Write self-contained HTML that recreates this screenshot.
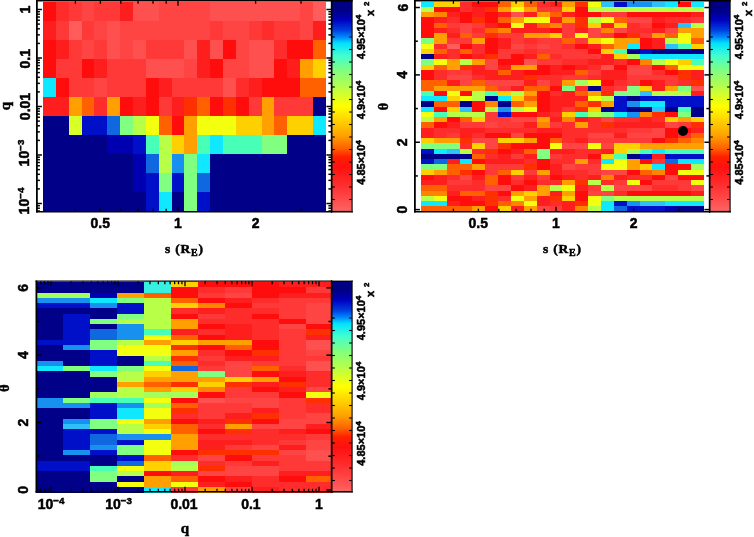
<!DOCTYPE html>
<html><head><meta charset="utf-8"><style>
html,body{margin:0;padding:0;background:#fff;width:754px;height:537px;overflow:hidden}
svg{display:block;filter:blur(0.35px)} text{stroke:#000;stroke-width:0.5px}
</style></head><body><svg width="754" height="537" viewBox="0 0 754 537"><defs><linearGradient id="cb" x1="0" y1="0" x2="0" y2="1"><stop offset="0%" stop-color="#000080"/><stop offset="5%" stop-color="#000088"/><stop offset="9%" stop-color="#0000c0"/><stop offset="14%" stop-color="#0040e0"/><stop offset="17.5%" stop-color="#0090ff"/><stop offset="20%" stop-color="#00e0ff"/><stop offset="26%" stop-color="#40ffd0"/><stop offset="33%" stop-color="#80ff80"/><stop offset="40%" stop-color="#b0ff50"/><stop offset="46%" stop-color="#e0ff20"/><stop offset="50%" stop-color="#ffff00"/><stop offset="57%" stop-color="#ffd000"/><stop offset="64%" stop-color="#ffa000"/><stop offset="70%" stop-color="#ff6000"/><stop offset="74%" stop-color="#ff2000"/><stop offset="79%" stop-color="#ff1010"/><stop offset="88%" stop-color="#ff3030"/><stop offset="100%" stop-color="#ff6464"/></linearGradient></defs><g shape-rendering="crispEdges"><rect x="43.00" y="1.70" width="13.16" height="19.37" fill="#ff0c0c"/><rect x="55.86" y="1.70" width="13.16" height="19.37" fill="#ff2c2c"/><rect x="68.72" y="1.70" width="13.16" height="19.37" fill="#ff3838"/><rect x="81.58" y="1.70" width="13.16" height="19.37" fill="#ff4444"/><rect x="94.44" y="1.70" width="13.16" height="19.37" fill="#ff3838"/><rect x="107.30" y="1.70" width="13.16" height="19.37" fill="#ff3838"/><rect x="120.16" y="1.70" width="13.16" height="19.37" fill="#ff1e1e"/><rect x="133.02" y="1.70" width="13.16" height="19.37" fill="#ff5050"/><rect x="145.88" y="1.70" width="13.16" height="19.37" fill="#ff5050"/><rect x="158.74" y="1.70" width="13.16" height="19.37" fill="#ff4444"/><rect x="171.60" y="1.70" width="13.16" height="19.37" fill="#ff4444"/><rect x="184.46" y="1.70" width="13.16" height="19.37" fill="#ff4444"/><rect x="197.32" y="1.70" width="13.16" height="19.37" fill="#ff4444"/><rect x="210.18" y="1.70" width="13.16" height="19.37" fill="#ff5050"/><rect x="223.04" y="1.70" width="13.16" height="19.37" fill="#ff5050"/><rect x="235.90" y="1.70" width="13.16" height="19.37" fill="#ff5050"/><rect x="248.76" y="1.70" width="13.16" height="19.37" fill="#ff5050"/><rect x="261.62" y="1.70" width="13.16" height="19.37" fill="#ff5050"/><rect x="274.48" y="1.70" width="13.16" height="19.37" fill="#ff5050"/><rect x="287.34" y="1.70" width="13.16" height="19.37" fill="#ff5050"/><rect x="300.20" y="1.70" width="13.16" height="19.37" fill="#ff4444"/><rect x="313.06" y="1.70" width="13.16" height="19.37" fill="#ff5c5c"/><rect x="43.00" y="20.77" width="13.16" height="19.37" fill="#ff1e1e"/><rect x="55.86" y="20.77" width="13.16" height="19.37" fill="#ff3838"/><rect x="68.72" y="20.77" width="13.16" height="19.37" fill="#ff5c5c"/><rect x="81.58" y="20.77" width="13.16" height="19.37" fill="#ff3838"/><rect x="94.44" y="20.77" width="13.16" height="19.37" fill="#ff4444"/><rect x="107.30" y="20.77" width="13.16" height="19.37" fill="#ff5050"/><rect x="120.16" y="20.77" width="13.16" height="19.37" fill="#ff4444"/><rect x="133.02" y="20.77" width="13.16" height="19.37" fill="#ff4444"/><rect x="145.88" y="20.77" width="13.16" height="19.37" fill="#ff4444"/><rect x="158.74" y="20.77" width="13.16" height="19.37" fill="#ff4444"/><rect x="171.60" y="20.77" width="13.16" height="19.37" fill="#ff4444"/><rect x="184.46" y="20.77" width="13.16" height="19.37" fill="#ff4444"/><rect x="197.32" y="20.77" width="13.16" height="19.37" fill="#ff4444"/><rect x="210.18" y="20.77" width="13.16" height="19.37" fill="#ff3838"/><rect x="223.04" y="20.77" width="13.16" height="19.37" fill="#ff4444"/><rect x="235.90" y="20.77" width="13.16" height="19.37" fill="#ff4444"/><rect x="248.76" y="20.77" width="13.16" height="19.37" fill="#ff3838"/><rect x="261.62" y="20.77" width="13.16" height="19.37" fill="#ff2c2c"/><rect x="274.48" y="20.77" width="13.16" height="19.37" fill="#ff3838"/><rect x="287.34" y="20.77" width="13.16" height="19.37" fill="#ff3838"/><rect x="300.20" y="20.77" width="13.16" height="19.37" fill="#ff4444"/><rect x="313.06" y="20.77" width="13.16" height="19.37" fill="#ff1e1e"/><rect x="43.00" y="39.84" width="13.16" height="19.37" fill="#ff0c0c"/><rect x="55.86" y="39.84" width="13.16" height="19.37" fill="#ff1e1e"/><rect x="68.72" y="39.84" width="13.16" height="19.37" fill="#ff3838"/><rect x="81.58" y="39.84" width="13.16" height="19.37" fill="#ff4444"/><rect x="94.44" y="39.84" width="13.16" height="19.37" fill="#ff3838"/><rect x="107.30" y="39.84" width="13.16" height="19.37" fill="#ff5050"/><rect x="120.16" y="39.84" width="13.16" height="19.37" fill="#ff4444"/><rect x="133.02" y="39.84" width="13.16" height="19.37" fill="#ff5050"/><rect x="145.88" y="39.84" width="13.16" height="19.37" fill="#ff3838"/><rect x="158.74" y="39.84" width="13.16" height="19.37" fill="#ff3838"/><rect x="171.60" y="39.84" width="13.16" height="19.37" fill="#ff3838"/><rect x="184.46" y="39.84" width="13.16" height="19.37" fill="#ff5050"/><rect x="197.32" y="39.84" width="13.16" height="19.37" fill="#ff1e1e"/><rect x="210.18" y="39.84" width="13.16" height="19.37" fill="#ff5050"/><rect x="223.04" y="39.84" width="13.16" height="19.37" fill="#ff0c0c"/><rect x="235.90" y="39.84" width="13.16" height="19.37" fill="#ff4444"/><rect x="248.76" y="39.84" width="13.16" height="19.37" fill="#ff5050"/><rect x="261.62" y="39.84" width="13.16" height="19.37" fill="#ff5050"/><rect x="274.48" y="39.84" width="13.16" height="19.37" fill="#ff2c2c"/><rect x="287.34" y="39.84" width="13.16" height="19.37" fill="#ff0c0c"/><rect x="300.20" y="39.84" width="13.16" height="19.37" fill="#ff0c0c"/><rect x="313.06" y="39.84" width="13.16" height="19.37" fill="#ff6000"/><rect x="43.00" y="58.91" width="13.16" height="19.37" fill="#ff0c0c"/><rect x="55.86" y="58.91" width="13.16" height="19.37" fill="#ff3838"/><rect x="68.72" y="58.91" width="13.16" height="19.37" fill="#ff3838"/><rect x="81.58" y="58.91" width="13.16" height="19.37" fill="#ff0c0c"/><rect x="94.44" y="58.91" width="13.16" height="19.37" fill="#ff1e1e"/><rect x="107.30" y="58.91" width="13.16" height="19.37" fill="#ff3838"/><rect x="120.16" y="58.91" width="13.16" height="19.37" fill="#ff3838"/><rect x="133.02" y="58.91" width="13.16" height="19.37" fill="#ff3838"/><rect x="145.88" y="58.91" width="13.16" height="19.37" fill="#ff5050"/><rect x="158.74" y="58.91" width="13.16" height="19.37" fill="#ff5050"/><rect x="171.60" y="58.91" width="13.16" height="19.37" fill="#ff5050"/><rect x="184.46" y="58.91" width="13.16" height="19.37" fill="#ff4444"/><rect x="197.32" y="58.91" width="13.16" height="19.37" fill="#ff1e1e"/><rect x="210.18" y="58.91" width="13.16" height="19.37" fill="#ff0c0c"/><rect x="223.04" y="58.91" width="13.16" height="19.37" fill="#ff4444"/><rect x="235.90" y="58.91" width="13.16" height="19.37" fill="#ff4444"/><rect x="248.76" y="58.91" width="13.16" height="19.37" fill="#ff5050"/><rect x="261.62" y="58.91" width="13.16" height="19.37" fill="#ff5050"/><rect x="274.48" y="58.91" width="13.16" height="19.37" fill="#ff0c0c"/><rect x="287.34" y="58.91" width="13.16" height="19.37" fill="#ff1e1e"/><rect x="300.20" y="58.91" width="13.16" height="19.37" fill="#ffa000"/><rect x="313.06" y="58.91" width="13.16" height="19.37" fill="#ffd000"/><rect x="43.00" y="77.98" width="13.16" height="19.37" fill="#10e8ff"/><rect x="55.86" y="77.98" width="13.16" height="19.37" fill="#ff0c0c"/><rect x="68.72" y="77.98" width="13.16" height="19.37" fill="#ff3838"/><rect x="81.58" y="77.98" width="13.16" height="19.37" fill="#ff3838"/><rect x="94.44" y="77.98" width="13.16" height="19.37" fill="#ff4444"/><rect x="107.30" y="77.98" width="13.16" height="19.37" fill="#ff3838"/><rect x="120.16" y="77.98" width="13.16" height="19.37" fill="#ff3838"/><rect x="133.02" y="77.98" width="13.16" height="19.37" fill="#ff3838"/><rect x="145.88" y="77.98" width="13.16" height="19.37" fill="#ff0c0c"/><rect x="158.74" y="77.98" width="13.16" height="19.37" fill="#ff1e1e"/><rect x="171.60" y="77.98" width="13.16" height="19.37" fill="#ff3838"/><rect x="184.46" y="77.98" width="13.16" height="19.37" fill="#ff3838"/><rect x="197.32" y="77.98" width="13.16" height="19.37" fill="#ff3838"/><rect x="210.18" y="77.98" width="13.16" height="19.37" fill="#ff3838"/><rect x="223.04" y="77.98" width="13.16" height="19.37" fill="#ff5050"/><rect x="235.90" y="77.98" width="13.16" height="19.37" fill="#ff2c2c"/><rect x="248.76" y="77.98" width="13.16" height="19.37" fill="#ff1e1e"/><rect x="261.62" y="77.98" width="13.16" height="19.37" fill="#ff0c0c"/><rect x="274.48" y="77.98" width="13.16" height="19.37" fill="#ff0c0c"/><rect x="287.34" y="77.98" width="13.16" height="19.37" fill="#ff0c0c"/><rect x="300.20" y="77.98" width="13.16" height="19.37" fill="#ff6000"/><rect x="313.06" y="77.98" width="13.16" height="19.37" fill="#ff6000"/><rect x="43.00" y="97.05" width="13.16" height="19.37" fill="#ff1e1e"/><rect x="55.86" y="97.05" width="13.16" height="19.37" fill="#ff1e1e"/><rect x="68.72" y="97.05" width="13.16" height="19.37" fill="#ffa000"/><rect x="81.58" y="97.05" width="13.16" height="19.37" fill="#ff6000"/><rect x="94.44" y="97.05" width="13.16" height="19.37" fill="#ff2c2c"/><rect x="107.30" y="97.05" width="13.16" height="19.37" fill="#ffa000"/><rect x="120.16" y="97.05" width="13.16" height="19.37" fill="#ff0c0c"/><rect x="133.02" y="97.05" width="13.16" height="19.37" fill="#ff1e1e"/><rect x="145.88" y="97.05" width="13.16" height="19.37" fill="#ff0c0c"/><rect x="158.74" y="97.05" width="13.16" height="19.37" fill="#ff3838"/><rect x="171.60" y="97.05" width="13.16" height="19.37" fill="#ff1e1e"/><rect x="184.46" y="97.05" width="13.16" height="19.37" fill="#ff3000"/><rect x="197.32" y="97.05" width="13.16" height="19.37" fill="#ff6000"/><rect x="210.18" y="97.05" width="13.16" height="19.37" fill="#ff0c0c"/><rect x="223.04" y="97.05" width="13.16" height="19.37" fill="#ff3000"/><rect x="235.90" y="97.05" width="13.16" height="19.37" fill="#ff0c0c"/><rect x="248.76" y="97.05" width="13.16" height="19.37" fill="#ff3838"/><rect x="261.62" y="97.05" width="13.16" height="19.37" fill="#ffa000"/><rect x="274.48" y="97.05" width="13.16" height="19.37" fill="#ff3838"/><rect x="287.34" y="97.05" width="13.16" height="19.37" fill="#ff3838"/><rect x="300.20" y="97.05" width="13.16" height="19.37" fill="#ff3838"/><rect x="313.06" y="97.05" width="13.16" height="19.37" fill="#000088"/><rect x="43.00" y="116.12" width="13.16" height="19.37" fill="#000088"/><rect x="55.86" y="116.12" width="13.16" height="19.37" fill="#000088"/><rect x="68.72" y="116.12" width="13.16" height="19.37" fill="#d8ff28"/><rect x="81.58" y="116.12" width="13.16" height="19.37" fill="#0010c8"/><rect x="94.44" y="116.12" width="13.16" height="19.37" fill="#0010c8"/><rect x="107.30" y="116.12" width="13.16" height="19.37" fill="#1068e0"/><rect x="120.16" y="116.12" width="13.16" height="19.37" fill="#80ff80"/><rect x="133.02" y="116.12" width="13.16" height="19.37" fill="#b8ff48"/><rect x="145.88" y="116.12" width="13.16" height="19.37" fill="#f4ff10"/><rect x="158.74" y="116.12" width="13.16" height="19.37" fill="#ff6000"/><rect x="171.60" y="116.12" width="13.16" height="19.37" fill="#ff0c0c"/><rect x="184.46" y="116.12" width="13.16" height="19.37" fill="#ffa000"/><rect x="197.32" y="116.12" width="13.16" height="19.37" fill="#f4ff10"/><rect x="210.18" y="116.12" width="13.16" height="19.37" fill="#f4ff10"/><rect x="223.04" y="116.12" width="13.16" height="19.37" fill="#f4ff10"/><rect x="235.90" y="116.12" width="13.16" height="19.37" fill="#ffd000"/><rect x="248.76" y="116.12" width="13.16" height="19.37" fill="#ffd000"/><rect x="261.62" y="116.12" width="13.16" height="19.37" fill="#ffa000"/><rect x="274.48" y="116.12" width="13.16" height="19.37" fill="#ff6000"/><rect x="287.34" y="116.12" width="13.16" height="19.37" fill="#ffd000"/><rect x="300.20" y="116.12" width="13.16" height="19.37" fill="#ffd000"/><rect x="313.06" y="116.12" width="13.16" height="19.37" fill="#10e8ff"/><rect x="43.00" y="135.19" width="13.16" height="19.37" fill="#000088"/><rect x="55.86" y="135.19" width="13.16" height="19.37" fill="#000088"/><rect x="68.72" y="135.19" width="13.16" height="19.37" fill="#000088"/><rect x="81.58" y="135.19" width="13.16" height="19.37" fill="#000088"/><rect x="94.44" y="135.19" width="13.16" height="19.37" fill="#000088"/><rect x="107.30" y="135.19" width="13.16" height="19.37" fill="#0000b0"/><rect x="120.16" y="135.19" width="13.16" height="19.37" fill="#0000b0"/><rect x="133.02" y="135.19" width="13.16" height="19.37" fill="#0010c8"/><rect x="145.88" y="135.19" width="13.16" height="19.37" fill="#48ffb8"/><rect x="158.74" y="135.19" width="13.16" height="19.37" fill="#b8ff48"/><rect x="171.60" y="135.19" width="13.16" height="19.37" fill="#ffd000"/><rect x="184.46" y="135.19" width="13.16" height="19.37" fill="#ffa000"/><rect x="197.32" y="135.19" width="13.16" height="19.37" fill="#48ffb8"/><rect x="210.18" y="135.19" width="13.16" height="19.37" fill="#10e8ff"/><rect x="223.04" y="135.19" width="13.16" height="19.37" fill="#48ffb8"/><rect x="235.90" y="135.19" width="13.16" height="19.37" fill="#48ffb8"/><rect x="248.76" y="135.19" width="13.16" height="19.37" fill="#48ffb8"/><rect x="261.62" y="135.19" width="13.16" height="19.37" fill="#80ff80"/><rect x="274.48" y="135.19" width="13.16" height="19.37" fill="#80ff80"/><rect x="287.34" y="135.19" width="13.16" height="19.37" fill="#000088"/><rect x="300.20" y="135.19" width="13.16" height="19.37" fill="#000088"/><rect x="313.06" y="135.19" width="13.16" height="19.37" fill="#000088"/><rect x="43.00" y="154.26" width="13.16" height="19.37" fill="#000088"/><rect x="55.86" y="154.26" width="13.16" height="19.37" fill="#000088"/><rect x="68.72" y="154.26" width="13.16" height="19.37" fill="#000088"/><rect x="81.58" y="154.26" width="13.16" height="19.37" fill="#000088"/><rect x="94.44" y="154.26" width="13.16" height="19.37" fill="#000088"/><rect x="107.30" y="154.26" width="13.16" height="19.37" fill="#000088"/><rect x="120.16" y="154.26" width="13.16" height="19.37" fill="#000088"/><rect x="133.02" y="154.26" width="13.16" height="19.37" fill="#0000b0"/><rect x="145.88" y="154.26" width="13.16" height="19.37" fill="#1068e0"/><rect x="158.74" y="154.26" width="13.16" height="19.37" fill="#b8ff48"/><rect x="171.60" y="154.26" width="13.16" height="19.37" fill="#1890f0"/><rect x="184.46" y="154.26" width="13.16" height="19.37" fill="#80ff80"/><rect x="197.32" y="154.26" width="13.16" height="19.37" fill="#10e8ff"/><rect x="210.18" y="154.26" width="13.16" height="19.37" fill="#000088"/><rect x="223.04" y="154.26" width="13.16" height="19.37" fill="#000088"/><rect x="235.90" y="154.26" width="13.16" height="19.37" fill="#000088"/><rect x="248.76" y="154.26" width="13.16" height="19.37" fill="#000088"/><rect x="261.62" y="154.26" width="13.16" height="19.37" fill="#000088"/><rect x="274.48" y="154.26" width="13.16" height="19.37" fill="#000088"/><rect x="287.34" y="154.26" width="13.16" height="19.37" fill="#000088"/><rect x="300.20" y="154.26" width="13.16" height="19.37" fill="#000088"/><rect x="313.06" y="154.26" width="13.16" height="19.37" fill="#000088"/><rect x="43.00" y="173.33" width="13.16" height="19.37" fill="#000088"/><rect x="55.86" y="173.33" width="13.16" height="19.37" fill="#000088"/><rect x="68.72" y="173.33" width="13.16" height="19.37" fill="#000088"/><rect x="81.58" y="173.33" width="13.16" height="19.37" fill="#000088"/><rect x="94.44" y="173.33" width="13.16" height="19.37" fill="#000088"/><rect x="107.30" y="173.33" width="13.16" height="19.37" fill="#000088"/><rect x="120.16" y="173.33" width="13.16" height="19.37" fill="#000088"/><rect x="133.02" y="173.33" width="13.16" height="19.37" fill="#0000b0"/><rect x="145.88" y="173.33" width="13.16" height="19.37" fill="#0010c8"/><rect x="158.74" y="173.33" width="13.16" height="19.37" fill="#80ff80"/><rect x="171.60" y="173.33" width="13.16" height="19.37" fill="#0010c8"/><rect x="184.46" y="173.33" width="13.16" height="19.37" fill="#80ff80"/><rect x="197.32" y="173.33" width="13.16" height="19.37" fill="#1068e0"/><rect x="210.18" y="173.33" width="13.16" height="19.37" fill="#000088"/><rect x="223.04" y="173.33" width="13.16" height="19.37" fill="#000088"/><rect x="235.90" y="173.33" width="13.16" height="19.37" fill="#000088"/><rect x="248.76" y="173.33" width="13.16" height="19.37" fill="#000088"/><rect x="261.62" y="173.33" width="13.16" height="19.37" fill="#000088"/><rect x="274.48" y="173.33" width="13.16" height="19.37" fill="#000088"/><rect x="287.34" y="173.33" width="13.16" height="19.37" fill="#000088"/><rect x="300.20" y="173.33" width="13.16" height="19.37" fill="#000088"/><rect x="313.06" y="173.33" width="13.16" height="19.37" fill="#000088"/><rect x="43.00" y="192.40" width="13.16" height="19.37" fill="#000088"/><rect x="55.86" y="192.40" width="13.16" height="19.37" fill="#000088"/><rect x="68.72" y="192.40" width="13.16" height="19.37" fill="#000088"/><rect x="81.58" y="192.40" width="13.16" height="19.37" fill="#000088"/><rect x="94.44" y="192.40" width="13.16" height="19.37" fill="#000088"/><rect x="107.30" y="192.40" width="13.16" height="19.37" fill="#000088"/><rect x="120.16" y="192.40" width="13.16" height="19.37" fill="#000088"/><rect x="133.02" y="192.40" width="13.16" height="19.37" fill="#000088"/><rect x="145.88" y="192.40" width="13.16" height="19.37" fill="#0010c8"/><rect x="158.74" y="192.40" width="13.16" height="19.37" fill="#10e8ff"/><rect x="171.60" y="192.40" width="13.16" height="19.37" fill="#000088"/><rect x="184.46" y="192.40" width="13.16" height="19.37" fill="#80ff80"/><rect x="197.32" y="192.40" width="13.16" height="19.37" fill="#0010c8"/><rect x="210.18" y="192.40" width="13.16" height="19.37" fill="#000088"/><rect x="223.04" y="192.40" width="13.16" height="19.37" fill="#000088"/><rect x="235.90" y="192.40" width="13.16" height="19.37" fill="#000088"/><rect x="248.76" y="192.40" width="13.16" height="19.37" fill="#000088"/><rect x="261.62" y="192.40" width="13.16" height="19.37" fill="#000088"/><rect x="274.48" y="192.40" width="13.16" height="19.37" fill="#000088"/><rect x="287.34" y="192.40" width="13.16" height="19.37" fill="#000088"/><rect x="300.20" y="192.40" width="13.16" height="19.37" fill="#000088"/><rect x="313.06" y="192.40" width="13.16" height="19.37" fill="#000088"/><rect x="421.00" y="1.60" width="13.16" height="5.55" fill="#10e8ff"/><rect x="433.86" y="1.60" width="13.16" height="5.55" fill="#ffd000"/><rect x="446.72" y="1.60" width="13.16" height="5.55" fill="#ffd000"/><rect x="459.58" y="1.60" width="13.16" height="5.55" fill="#ff2c2c"/><rect x="472.44" y="1.60" width="13.16" height="5.55" fill="#ff0c0c"/><rect x="485.30" y="1.60" width="13.16" height="5.55" fill="#ff0c0c"/><rect x="498.16" y="1.60" width="13.16" height="5.55" fill="#ff6000"/><rect x="511.02" y="1.60" width="13.16" height="5.55" fill="#ffd000"/><rect x="523.88" y="1.60" width="13.16" height="5.55" fill="#ff6000"/><rect x="536.74" y="1.60" width="13.16" height="5.55" fill="#ff2c2c"/><rect x="549.60" y="1.60" width="13.16" height="5.55" fill="#ff1e1e"/><rect x="562.46" y="1.60" width="13.16" height="5.55" fill="#ffa000"/><rect x="575.32" y="1.60" width="13.16" height="5.55" fill="#ff3000"/><rect x="588.18" y="1.60" width="13.16" height="5.55" fill="#f4ff10"/><rect x="601.04" y="1.60" width="13.16" height="5.55" fill="#30c0f8"/><rect x="613.90" y="1.60" width="13.16" height="5.55" fill="#0010c8"/><rect x="626.76" y="1.60" width="13.16" height="5.55" fill="#1890f0"/><rect x="639.62" y="1.60" width="13.16" height="5.55" fill="#1890f0"/><rect x="652.48" y="1.60" width="13.16" height="5.55" fill="#30c0f8"/><rect x="665.34" y="1.60" width="13.16" height="5.55" fill="#10e8ff"/><rect x="678.20" y="1.60" width="13.16" height="5.55" fill="#ff0c0c"/><rect x="691.06" y="1.60" width="13.16" height="5.55" fill="#10e8ff"/><rect x="421.00" y="6.85" width="13.16" height="5.55" fill="#b8ff48"/><rect x="433.86" y="6.85" width="13.16" height="5.55" fill="#ff0c0c"/><rect x="446.72" y="6.85" width="13.16" height="5.55" fill="#ff0c0c"/><rect x="459.58" y="6.85" width="13.16" height="5.55" fill="#ff2c2c"/><rect x="472.44" y="6.85" width="13.16" height="5.55" fill="#ff1e1e"/><rect x="485.30" y="6.85" width="13.16" height="5.55" fill="#ff3000"/><rect x="498.16" y="6.85" width="13.16" height="5.55" fill="#ffa000"/><rect x="511.02" y="6.85" width="13.16" height="5.55" fill="#f4ff10"/><rect x="523.88" y="6.85" width="13.16" height="5.55" fill="#ffa000"/><rect x="536.74" y="6.85" width="13.16" height="5.55" fill="#ff3838"/><rect x="549.60" y="6.85" width="13.16" height="5.55" fill="#ff3838"/><rect x="562.46" y="6.85" width="13.16" height="5.55" fill="#ffd000"/><rect x="575.32" y="6.85" width="13.16" height="5.55" fill="#ff0c0c"/><rect x="588.18" y="6.85" width="13.16" height="5.55" fill="#b8ff48"/><rect x="601.04" y="6.85" width="13.16" height="5.55" fill="#b8ff48"/><rect x="613.90" y="6.85" width="13.16" height="5.55" fill="#b8ff48"/><rect x="626.76" y="6.85" width="13.16" height="5.55" fill="#b8ff48"/><rect x="639.62" y="6.85" width="13.16" height="5.55" fill="#b8ff48"/><rect x="652.48" y="6.85" width="13.16" height="5.55" fill="#b8ff48"/><rect x="665.34" y="6.85" width="13.16" height="5.55" fill="#b8ff48"/><rect x="678.20" y="6.85" width="13.16" height="5.55" fill="#b8ff48"/><rect x="691.06" y="6.85" width="13.16" height="5.55" fill="#b8ff48"/><rect x="421.00" y="12.10" width="13.16" height="5.55" fill="#ffa000"/><rect x="433.86" y="12.10" width="13.16" height="5.55" fill="#ff8400"/><rect x="446.72" y="12.10" width="13.16" height="5.55" fill="#ff1e1e"/><rect x="459.58" y="12.10" width="13.16" height="5.55" fill="#ff0c0c"/><rect x="472.44" y="12.10" width="13.16" height="5.55" fill="#ff1e1e"/><rect x="485.30" y="12.10" width="13.16" height="5.55" fill="#ff0c0c"/><rect x="498.16" y="12.10" width="13.16" height="5.55" fill="#ff1e1e"/><rect x="511.02" y="12.10" width="13.16" height="5.55" fill="#ff5050"/><rect x="523.88" y="12.10" width="13.16" height="5.55" fill="#ff1e1e"/><rect x="536.74" y="12.10" width="13.16" height="5.55" fill="#ffa000"/><rect x="549.60" y="12.10" width="13.16" height="5.55" fill="#ff6000"/><rect x="562.46" y="12.10" width="13.16" height="5.55" fill="#ff1e1e"/><rect x="575.32" y="12.10" width="13.16" height="5.55" fill="#ff0c0c"/><rect x="588.18" y="12.10" width="13.16" height="5.55" fill="#ff0c0c"/><rect x="601.04" y="12.10" width="13.16" height="5.55" fill="#ff3838"/><rect x="613.90" y="12.10" width="13.16" height="5.55" fill="#ff3838"/><rect x="626.76" y="12.10" width="13.16" height="5.55" fill="#ff0c0c"/><rect x="639.62" y="12.10" width="13.16" height="5.55" fill="#ff0c0c"/><rect x="652.48" y="12.10" width="13.16" height="5.55" fill="#ff0c0c"/><rect x="665.34" y="12.10" width="13.16" height="5.55" fill="#ff0c0c"/><rect x="678.20" y="12.10" width="13.16" height="5.55" fill="#ff0c0c"/><rect x="691.06" y="12.10" width="13.16" height="5.55" fill="#ff1e1e"/><rect x="421.00" y="17.35" width="13.16" height="5.55" fill="#ff0c0c"/><rect x="433.86" y="17.35" width="13.16" height="5.55" fill="#ff1e1e"/><rect x="446.72" y="17.35" width="13.16" height="5.55" fill="#ff2c2c"/><rect x="459.58" y="17.35" width="13.16" height="5.55" fill="#ff0c0c"/><rect x="472.44" y="17.35" width="13.16" height="5.55" fill="#ff3000"/><rect x="485.30" y="17.35" width="13.16" height="5.55" fill="#ff0c0c"/><rect x="498.16" y="17.35" width="13.16" height="5.55" fill="#ff6000"/><rect x="511.02" y="17.35" width="13.16" height="5.55" fill="#ffa000"/><rect x="523.88" y="17.35" width="13.16" height="5.55" fill="#f4ff10"/><rect x="536.74" y="17.35" width="13.16" height="5.55" fill="#f4ff10"/><rect x="549.60" y="17.35" width="13.16" height="5.55" fill="#ff1e1e"/><rect x="562.46" y="17.35" width="13.16" height="5.55" fill="#ffa000"/><rect x="575.32" y="17.35" width="13.16" height="5.55" fill="#ff3000"/><rect x="588.18" y="17.35" width="13.16" height="5.55" fill="#b8ff48"/><rect x="601.04" y="17.35" width="13.16" height="5.55" fill="#f4ff10"/><rect x="613.90" y="17.35" width="13.16" height="5.55" fill="#ff6000"/><rect x="626.76" y="17.35" width="13.16" height="5.55" fill="#ff4444"/><rect x="639.62" y="17.35" width="13.16" height="5.55" fill="#ff4444"/><rect x="652.48" y="17.35" width="13.16" height="5.55" fill="#ff1e1e"/><rect x="665.34" y="17.35" width="13.16" height="5.55" fill="#ff2c2c"/><rect x="678.20" y="17.35" width="13.16" height="5.55" fill="#ff2c2c"/><rect x="691.06" y="17.35" width="13.16" height="5.55" fill="#ff3838"/><rect x="421.00" y="22.60" width="13.16" height="5.55" fill="#ff0c0c"/><rect x="433.86" y="22.60" width="13.16" height="5.55" fill="#ff6000"/><rect x="446.72" y="22.60" width="13.16" height="5.55" fill="#ff3838"/><rect x="459.58" y="22.60" width="13.16" height="5.55" fill="#ff4444"/><rect x="472.44" y="22.60" width="13.16" height="5.55" fill="#ff3838"/><rect x="485.30" y="22.60" width="13.16" height="5.55" fill="#ff1e1e"/><rect x="498.16" y="22.60" width="13.16" height="5.55" fill="#ff0c0c"/><rect x="511.02" y="22.60" width="13.16" height="5.55" fill="#f4ff10"/><rect x="523.88" y="22.60" width="13.16" height="5.55" fill="#ff1e1e"/><rect x="536.74" y="22.60" width="13.16" height="5.55" fill="#ff6000"/><rect x="549.60" y="22.60" width="13.16" height="5.55" fill="#ff8400"/><rect x="562.46" y="22.60" width="13.16" height="5.55" fill="#ff3838"/><rect x="575.32" y="22.60" width="13.16" height="5.55" fill="#ff3000"/><rect x="588.18" y="22.60" width="13.16" height="5.55" fill="#ffd000"/><rect x="601.04" y="22.60" width="13.16" height="5.55" fill="#ff1e1e"/><rect x="613.90" y="22.60" width="13.16" height="5.55" fill="#ffd000"/><rect x="626.76" y="22.60" width="13.16" height="5.55" fill="#ff2c2c"/><rect x="639.62" y="22.60" width="13.16" height="5.55" fill="#ff3838"/><rect x="652.48" y="22.60" width="13.16" height="5.55" fill="#ff0c0c"/><rect x="665.34" y="22.60" width="13.16" height="5.55" fill="#ff1e1e"/><rect x="678.20" y="22.60" width="13.16" height="5.55" fill="#30c0f8"/><rect x="691.06" y="22.60" width="13.16" height="5.55" fill="#b8ff48"/><rect x="421.00" y="27.85" width="13.16" height="5.55" fill="#ff0c0c"/><rect x="433.86" y="27.85" width="13.16" height="5.55" fill="#ff1e1e"/><rect x="446.72" y="27.85" width="13.16" height="5.55" fill="#ff2c2c"/><rect x="459.58" y="27.85" width="13.16" height="5.55" fill="#ff4444"/><rect x="472.44" y="27.85" width="13.16" height="5.55" fill="#ff2c2c"/><rect x="485.30" y="27.85" width="13.16" height="5.55" fill="#ff6000"/><rect x="498.16" y="27.85" width="13.16" height="5.55" fill="#ff8400"/><rect x="511.02" y="27.85" width="13.16" height="5.55" fill="#ff1e1e"/><rect x="523.88" y="27.85" width="13.16" height="5.55" fill="#ff1e1e"/><rect x="536.74" y="27.85" width="13.16" height="5.55" fill="#ff1e1e"/><rect x="549.60" y="27.85" width="13.16" height="5.55" fill="#ff0c0c"/><rect x="562.46" y="27.85" width="13.16" height="5.55" fill="#ff3838"/><rect x="575.32" y="27.85" width="13.16" height="5.55" fill="#ff1e1e"/><rect x="588.18" y="27.85" width="13.16" height="5.55" fill="#ff4444"/><rect x="601.04" y="27.85" width="13.16" height="5.55" fill="#ff8400"/><rect x="613.90" y="27.85" width="13.16" height="5.55" fill="#ff4444"/><rect x="626.76" y="27.85" width="13.16" height="5.55" fill="#ff2c2c"/><rect x="639.62" y="27.85" width="13.16" height="5.55" fill="#ff2c2c"/><rect x="652.48" y="27.85" width="13.16" height="5.55" fill="#ff1e1e"/><rect x="665.34" y="27.85" width="13.16" height="5.55" fill="#ff4444"/><rect x="678.20" y="27.85" width="13.16" height="5.55" fill="#ffa000"/><rect x="691.06" y="27.85" width="13.16" height="5.55" fill="#ffa000"/><rect x="421.00" y="33.10" width="13.16" height="5.55" fill="#ff0c0c"/><rect x="433.86" y="33.10" width="13.16" height="5.55" fill="#ffa000"/><rect x="446.72" y="33.10" width="13.16" height="5.55" fill="#ff1e1e"/><rect x="459.58" y="33.10" width="13.16" height="5.55" fill="#ff6000"/><rect x="472.44" y="33.10" width="13.16" height="5.55" fill="#ff3838"/><rect x="485.30" y="33.10" width="13.16" height="5.55" fill="#ff3000"/><rect x="498.16" y="33.10" width="13.16" height="5.55" fill="#ff3838"/><rect x="511.02" y="33.10" width="13.16" height="5.55" fill="#ff3838"/><rect x="523.88" y="33.10" width="13.16" height="5.55" fill="#ffa000"/><rect x="536.74" y="33.10" width="13.16" height="5.55" fill="#ffa000"/><rect x="549.60" y="33.10" width="13.16" height="5.55" fill="#ffd000"/><rect x="562.46" y="33.10" width="13.16" height="5.55" fill="#ff3838"/><rect x="575.32" y="33.10" width="13.16" height="5.55" fill="#f4ff10"/><rect x="588.18" y="33.10" width="13.16" height="5.55" fill="#ff4444"/><rect x="601.04" y="33.10" width="13.16" height="5.55" fill="#ff3838"/><rect x="613.90" y="33.10" width="13.16" height="5.55" fill="#ff0c0c"/><rect x="626.76" y="33.10" width="13.16" height="5.55" fill="#ff3000"/><rect x="639.62" y="33.10" width="13.16" height="5.55" fill="#ff3838"/><rect x="652.48" y="33.10" width="13.16" height="5.55" fill="#ffa000"/><rect x="665.34" y="33.10" width="13.16" height="5.55" fill="#ff6000"/><rect x="678.20" y="33.10" width="13.16" height="5.55" fill="#f4ff10"/><rect x="691.06" y="33.10" width="13.16" height="5.55" fill="#ffa000"/><rect x="421.00" y="38.35" width="13.16" height="5.55" fill="#80ff80"/><rect x="433.86" y="38.35" width="13.16" height="5.55" fill="#ffa000"/><rect x="446.72" y="38.35" width="13.16" height="5.55" fill="#ff3838"/><rect x="459.58" y="38.35" width="13.16" height="5.55" fill="#ff3838"/><rect x="472.44" y="38.35" width="13.16" height="5.55" fill="#ffa000"/><rect x="485.30" y="38.35" width="13.16" height="5.55" fill="#ff0c0c"/><rect x="498.16" y="38.35" width="13.16" height="5.55" fill="#ff1e1e"/><rect x="511.02" y="38.35" width="13.16" height="5.55" fill="#ff3838"/><rect x="523.88" y="38.35" width="13.16" height="5.55" fill="#ff2c2c"/><rect x="536.74" y="38.35" width="13.16" height="5.55" fill="#ff3838"/><rect x="549.60" y="38.35" width="13.16" height="5.55" fill="#ff3838"/><rect x="562.46" y="38.35" width="13.16" height="5.55" fill="#ff6000"/><rect x="575.32" y="38.35" width="13.16" height="5.55" fill="#ff3838"/><rect x="588.18" y="38.35" width="13.16" height="5.55" fill="#ffd000"/><rect x="601.04" y="38.35" width="13.16" height="5.55" fill="#f4ff10"/><rect x="613.90" y="38.35" width="13.16" height="5.55" fill="#ffa000"/><rect x="626.76" y="38.35" width="13.16" height="5.55" fill="#ffa000"/><rect x="639.62" y="38.35" width="13.16" height="5.55" fill="#ff0c0c"/><rect x="652.48" y="38.35" width="13.16" height="5.55" fill="#ff1e1e"/><rect x="665.34" y="38.35" width="13.16" height="5.55" fill="#b8ff48"/><rect x="678.20" y="38.35" width="13.16" height="5.55" fill="#f4ff10"/><rect x="691.06" y="38.35" width="13.16" height="5.55" fill="#ff6000"/><rect x="421.00" y="43.60" width="13.16" height="5.55" fill="#f4ff10"/><rect x="433.86" y="43.60" width="13.16" height="5.55" fill="#ff2c2c"/><rect x="446.72" y="43.60" width="13.16" height="5.55" fill="#ff5c5c"/><rect x="459.58" y="43.60" width="13.16" height="5.55" fill="#ff0c0c"/><rect x="472.44" y="43.60" width="13.16" height="5.55" fill="#ff2c2c"/><rect x="485.30" y="43.60" width="13.16" height="5.55" fill="#ff0c0c"/><rect x="498.16" y="43.60" width="13.16" height="5.55" fill="#ff1e1e"/><rect x="511.02" y="43.60" width="13.16" height="5.55" fill="#ff4444"/><rect x="523.88" y="43.60" width="13.16" height="5.55" fill="#ff3838"/><rect x="536.74" y="43.60" width="13.16" height="5.55" fill="#ff4444"/><rect x="549.60" y="43.60" width="13.16" height="5.55" fill="#ff3838"/><rect x="562.46" y="43.60" width="13.16" height="5.55" fill="#ff2c2c"/><rect x="575.32" y="43.60" width="13.16" height="5.55" fill="#ff0c0c"/><rect x="588.18" y="43.60" width="13.16" height="5.55" fill="#ff1e1e"/><rect x="601.04" y="43.60" width="13.16" height="5.55" fill="#ff6000"/><rect x="613.90" y="43.60" width="13.16" height="5.55" fill="#ffa000"/><rect x="626.76" y="43.60" width="13.16" height="5.55" fill="#10e8ff"/><rect x="639.62" y="43.60" width="13.16" height="5.55" fill="#ff0c0c"/><rect x="652.48" y="43.60" width="13.16" height="5.55" fill="#ff1e1e"/><rect x="665.34" y="43.60" width="13.16" height="5.55" fill="#30c0f8"/><rect x="678.20" y="43.60" width="13.16" height="5.55" fill="#48ffb8"/><rect x="691.06" y="43.60" width="13.16" height="5.55" fill="#ffd000"/><rect x="421.00" y="48.85" width="13.16" height="5.55" fill="#ffd000"/><rect x="433.86" y="48.85" width="13.16" height="5.55" fill="#ff6000"/><rect x="446.72" y="48.85" width="13.16" height="5.55" fill="#ff2c2c"/><rect x="459.58" y="48.85" width="13.16" height="5.55" fill="#ff6000"/><rect x="472.44" y="48.85" width="13.16" height="5.55" fill="#ff2c2c"/><rect x="485.30" y="48.85" width="13.16" height="5.55" fill="#ff0c0c"/><rect x="498.16" y="48.85" width="13.16" height="5.55" fill="#ff3838"/><rect x="511.02" y="48.85" width="13.16" height="5.55" fill="#ff3838"/><rect x="523.88" y="48.85" width="13.16" height="5.55" fill="#ff2c2c"/><rect x="536.74" y="48.85" width="13.16" height="5.55" fill="#ff3838"/><rect x="549.60" y="48.85" width="13.16" height="5.55" fill="#ff3838"/><rect x="562.46" y="48.85" width="13.16" height="5.55" fill="#ff3838"/><rect x="575.32" y="48.85" width="13.16" height="5.55" fill="#ff3838"/><rect x="588.18" y="48.85" width="13.16" height="5.55" fill="#ff0c0c"/><rect x="601.04" y="48.85" width="13.16" height="5.55" fill="#ffd000"/><rect x="613.90" y="48.85" width="13.16" height="5.55" fill="#48ffb8"/><rect x="626.76" y="48.85" width="13.16" height="5.55" fill="#000088"/><rect x="639.62" y="48.85" width="13.16" height="5.55" fill="#0010c8"/><rect x="652.48" y="48.85" width="13.16" height="5.55" fill="#000088"/><rect x="665.34" y="48.85" width="13.16" height="5.55" fill="#000088"/><rect x="678.20" y="48.85" width="13.16" height="5.55" fill="#000088"/><rect x="691.06" y="48.85" width="13.16" height="5.55" fill="#000088"/><rect x="421.00" y="54.10" width="13.16" height="5.55" fill="#000088"/><rect x="433.86" y="54.10" width="13.16" height="5.55" fill="#ff1e1e"/><rect x="446.72" y="54.10" width="13.16" height="5.55" fill="#ff2c2c"/><rect x="459.58" y="54.10" width="13.16" height="5.55" fill="#ff0c0c"/><rect x="472.44" y="54.10" width="13.16" height="5.55" fill="#ff1e1e"/><rect x="485.30" y="54.10" width="13.16" height="5.55" fill="#ff3000"/><rect x="498.16" y="54.10" width="13.16" height="5.55" fill="#ff3838"/><rect x="511.02" y="54.10" width="13.16" height="5.55" fill="#ff0c0c"/><rect x="523.88" y="54.10" width="13.16" height="5.55" fill="#ff1e1e"/><rect x="536.74" y="54.10" width="13.16" height="5.55" fill="#ff6000"/><rect x="549.60" y="54.10" width="13.16" height="5.55" fill="#ff2c2c"/><rect x="562.46" y="54.10" width="13.16" height="5.55" fill="#ff3838"/><rect x="575.32" y="54.10" width="13.16" height="5.55" fill="#ff3838"/><rect x="588.18" y="54.10" width="13.16" height="5.55" fill="#ff3838"/><rect x="601.04" y="54.10" width="13.16" height="5.55" fill="#ff1e1e"/><rect x="613.90" y="54.10" width="13.16" height="5.55" fill="#ffd000"/><rect x="626.76" y="54.10" width="13.16" height="5.55" fill="#a4ff5c"/><rect x="639.62" y="54.10" width="13.16" height="5.55" fill="#10e8ff"/><rect x="652.48" y="54.10" width="13.16" height="5.55" fill="#10e8ff"/><rect x="665.34" y="54.10" width="13.16" height="5.55" fill="#10e8ff"/><rect x="678.20" y="54.10" width="13.16" height="5.55" fill="#10e8ff"/><rect x="691.06" y="54.10" width="13.16" height="5.55" fill="#10e8ff"/><rect x="421.00" y="59.35" width="13.16" height="5.55" fill="#80ff80"/><rect x="433.86" y="59.35" width="13.16" height="5.55" fill="#f4ff10"/><rect x="446.72" y="59.35" width="13.16" height="5.55" fill="#ffa000"/><rect x="459.58" y="59.35" width="13.16" height="5.55" fill="#b8ff48"/><rect x="472.44" y="59.35" width="13.16" height="5.55" fill="#ffa000"/><rect x="485.30" y="59.35" width="13.16" height="5.55" fill="#ff4444"/><rect x="498.16" y="59.35" width="13.16" height="5.55" fill="#ff0c0c"/><rect x="511.02" y="59.35" width="13.16" height="5.55" fill="#ff0c0c"/><rect x="523.88" y="59.35" width="13.16" height="5.55" fill="#ff5050"/><rect x="536.74" y="59.35" width="13.16" height="5.55" fill="#ff3838"/><rect x="549.60" y="59.35" width="13.16" height="5.55" fill="#ff3838"/><rect x="562.46" y="59.35" width="13.16" height="5.55" fill="#ff2c2c"/><rect x="575.32" y="59.35" width="13.16" height="5.55" fill="#ff2c2c"/><rect x="588.18" y="59.35" width="13.16" height="5.55" fill="#ff1e1e"/><rect x="601.04" y="59.35" width="13.16" height="5.55" fill="#ff1e1e"/><rect x="613.90" y="59.35" width="13.16" height="5.55" fill="#ff2c2c"/><rect x="626.76" y="59.35" width="13.16" height="5.55" fill="#ff0c0c"/><rect x="639.62" y="59.35" width="13.16" height="5.55" fill="#ff8400"/><rect x="652.48" y="59.35" width="13.16" height="5.55" fill="#b8ff48"/><rect x="665.34" y="59.35" width="13.16" height="5.55" fill="#f4ff10"/><rect x="678.20" y="59.35" width="13.16" height="5.55" fill="#ffd000"/><rect x="691.06" y="59.35" width="13.16" height="5.55" fill="#48ffb8"/><rect x="421.00" y="64.60" width="13.16" height="5.55" fill="#ffd000"/><rect x="433.86" y="64.60" width="13.16" height="5.55" fill="#ff6000"/><rect x="446.72" y="64.60" width="13.16" height="5.55" fill="#ffa000"/><rect x="459.58" y="64.60" width="13.16" height="5.55" fill="#ff3000"/><rect x="472.44" y="64.60" width="13.16" height="5.55" fill="#ff1e1e"/><rect x="485.30" y="64.60" width="13.16" height="5.55" fill="#ff4444"/><rect x="498.16" y="64.60" width="13.16" height="5.55" fill="#ff1e1e"/><rect x="511.02" y="64.60" width="13.16" height="5.55" fill="#ffa000"/><rect x="523.88" y="64.60" width="13.16" height="5.55" fill="#ffa000"/><rect x="536.74" y="64.60" width="13.16" height="5.55" fill="#ff0c0c"/><rect x="549.60" y="64.60" width="13.16" height="5.55" fill="#ff1e1e"/><rect x="562.46" y="64.60" width="13.16" height="5.55" fill="#ff0c0c"/><rect x="575.32" y="64.60" width="13.16" height="5.55" fill="#ff1e1e"/><rect x="588.18" y="64.60" width="13.16" height="5.55" fill="#ff2c2c"/><rect x="601.04" y="64.60" width="13.16" height="5.55" fill="#ff5050"/><rect x="613.90" y="64.60" width="13.16" height="5.55" fill="#ff0c0c"/><rect x="626.76" y="64.60" width="13.16" height="5.55" fill="#ff4444"/><rect x="639.62" y="64.60" width="13.16" height="5.55" fill="#ff4444"/><rect x="652.48" y="64.60" width="13.16" height="5.55" fill="#ff0c0c"/><rect x="665.34" y="64.60" width="13.16" height="5.55" fill="#ff6000"/><rect x="678.20" y="64.60" width="13.16" height="5.55" fill="#f4ff10"/><rect x="691.06" y="64.60" width="13.16" height="5.55" fill="#f4ff10"/><rect x="421.00" y="69.85" width="13.16" height="5.55" fill="#ff0c0c"/><rect x="433.86" y="69.85" width="13.16" height="5.55" fill="#ff2c2c"/><rect x="446.72" y="69.85" width="13.16" height="5.55" fill="#ff3838"/><rect x="459.58" y="69.85" width="13.16" height="5.55" fill="#ff3838"/><rect x="472.44" y="69.85" width="13.16" height="5.55" fill="#ff1e1e"/><rect x="485.30" y="69.85" width="13.16" height="5.55" fill="#ff1e1e"/><rect x="498.16" y="69.85" width="13.16" height="5.55" fill="#ff6000"/><rect x="511.02" y="69.85" width="13.16" height="5.55" fill="#ff1e1e"/><rect x="523.88" y="69.85" width="13.16" height="5.55" fill="#ff0c0c"/><rect x="536.74" y="69.85" width="13.16" height="5.55" fill="#ff0c0c"/><rect x="549.60" y="69.85" width="13.16" height="5.55" fill="#ff1e1e"/><rect x="562.46" y="69.85" width="13.16" height="5.55" fill="#ff1e1e"/><rect x="575.32" y="69.85" width="13.16" height="5.55" fill="#ff6000"/><rect x="588.18" y="69.85" width="13.16" height="5.55" fill="#ff3838"/><rect x="601.04" y="69.85" width="13.16" height="5.55" fill="#ff1e1e"/><rect x="613.90" y="69.85" width="13.16" height="5.55" fill="#ff1e1e"/><rect x="626.76" y="69.85" width="13.16" height="5.55" fill="#ff4444"/><rect x="639.62" y="69.85" width="13.16" height="5.55" fill="#ff4444"/><rect x="652.48" y="69.85" width="13.16" height="5.55" fill="#ff2c2c"/><rect x="665.34" y="69.85" width="13.16" height="5.55" fill="#ff0c0c"/><rect x="678.20" y="69.85" width="13.16" height="5.55" fill="#ff3000"/><rect x="691.06" y="69.85" width="13.16" height="5.55" fill="#ff1e1e"/><rect x="421.00" y="75.10" width="13.16" height="5.55" fill="#ff0c0c"/><rect x="433.86" y="75.10" width="13.16" height="5.55" fill="#ff2c2c"/><rect x="446.72" y="75.10" width="13.16" height="5.55" fill="#ff4444"/><rect x="459.58" y="75.10" width="13.16" height="5.55" fill="#ff4444"/><rect x="472.44" y="75.10" width="13.16" height="5.55" fill="#ff2c2c"/><rect x="485.30" y="75.10" width="13.16" height="5.55" fill="#ff1e1e"/><rect x="498.16" y="75.10" width="13.16" height="5.55" fill="#ff1e1e"/><rect x="511.02" y="75.10" width="13.16" height="5.55" fill="#ff1e1e"/><rect x="523.88" y="75.10" width="13.16" height="5.55" fill="#ff3000"/><rect x="536.74" y="75.10" width="13.16" height="5.55" fill="#ff2c2c"/><rect x="549.60" y="75.10" width="13.16" height="5.55" fill="#ff2c2c"/><rect x="562.46" y="75.10" width="13.16" height="5.55" fill="#ff3838"/><rect x="575.32" y="75.10" width="13.16" height="5.55" fill="#ff3838"/><rect x="588.18" y="75.10" width="13.16" height="5.55" fill="#ff2c2c"/><rect x="601.04" y="75.10" width="13.16" height="5.55" fill="#ff1e1e"/><rect x="613.90" y="75.10" width="13.16" height="5.55" fill="#ff1e1e"/><rect x="626.76" y="75.10" width="13.16" height="5.55" fill="#ff3838"/><rect x="639.62" y="75.10" width="13.16" height="5.55" fill="#ff3838"/><rect x="652.48" y="75.10" width="13.16" height="5.55" fill="#ff3838"/><rect x="665.34" y="75.10" width="13.16" height="5.55" fill="#ff3838"/><rect x="678.20" y="75.10" width="13.16" height="5.55" fill="#ff3000"/><rect x="691.06" y="75.10" width="13.16" height="5.55" fill="#ff1e1e"/><rect x="421.00" y="80.35" width="13.16" height="5.55" fill="#ff6000"/><rect x="433.86" y="80.35" width="13.16" height="5.55" fill="#ff6000"/><rect x="446.72" y="80.35" width="13.16" height="5.55" fill="#ff1e1e"/><rect x="459.58" y="80.35" width="13.16" height="5.55" fill="#ff4444"/><rect x="472.44" y="80.35" width="13.16" height="5.55" fill="#ff6000"/><rect x="485.30" y="80.35" width="13.16" height="5.55" fill="#ff4444"/><rect x="498.16" y="80.35" width="13.16" height="5.55" fill="#ff4444"/><rect x="511.02" y="80.35" width="13.16" height="5.55" fill="#ff4444"/><rect x="523.88" y="80.35" width="13.16" height="5.55" fill="#ff1e1e"/><rect x="536.74" y="80.35" width="13.16" height="5.55" fill="#ff4444"/><rect x="549.60" y="80.35" width="13.16" height="5.55" fill="#ff2c2c"/><rect x="562.46" y="80.35" width="13.16" height="5.55" fill="#ffa000"/><rect x="575.32" y="80.35" width="13.16" height="5.55" fill="#a4ff5c"/><rect x="588.18" y="80.35" width="13.16" height="5.55" fill="#f4ff10"/><rect x="601.04" y="80.35" width="13.16" height="5.55" fill="#ff0c0c"/><rect x="613.90" y="80.35" width="13.16" height="5.55" fill="#ff2c2c"/><rect x="626.76" y="80.35" width="13.16" height="5.55" fill="#ff3838"/><rect x="639.62" y="80.35" width="13.16" height="5.55" fill="#ff0c0c"/><rect x="652.48" y="80.35" width="13.16" height="5.55" fill="#ff1e1e"/><rect x="665.34" y="80.35" width="13.16" height="5.55" fill="#ff3838"/><rect x="678.20" y="80.35" width="13.16" height="5.55" fill="#ff2c2c"/><rect x="691.06" y="80.35" width="13.16" height="5.55" fill="#ff3000"/><rect x="421.00" y="85.60" width="13.16" height="5.55" fill="#ff6000"/><rect x="433.86" y="85.60" width="13.16" height="5.55" fill="#ffa000"/><rect x="446.72" y="85.60" width="13.16" height="5.55" fill="#ffa000"/><rect x="459.58" y="85.60" width="13.16" height="5.55" fill="#ffa000"/><rect x="472.44" y="85.60" width="13.16" height="5.55" fill="#ffa000"/><rect x="485.30" y="85.60" width="13.16" height="5.55" fill="#ff6000"/><rect x="498.16" y="85.60" width="13.16" height="5.55" fill="#ff3838"/><rect x="511.02" y="85.60" width="13.16" height="5.55" fill="#ff1e1e"/><rect x="523.88" y="85.60" width="13.16" height="5.55" fill="#ff6000"/><rect x="536.74" y="85.60" width="13.16" height="5.55" fill="#ff6000"/><rect x="549.60" y="85.60" width="13.16" height="5.55" fill="#ff0c0c"/><rect x="562.46" y="85.60" width="13.16" height="5.55" fill="#80ff80"/><rect x="575.32" y="85.60" width="13.16" height="5.55" fill="#ff2c2c"/><rect x="588.18" y="85.60" width="13.16" height="5.55" fill="#000088"/><rect x="601.04" y="85.60" width="13.16" height="5.55" fill="#ff2c2c"/><rect x="613.90" y="85.60" width="13.16" height="5.55" fill="#ff3838"/><rect x="626.76" y="85.60" width="13.16" height="5.55" fill="#80ff80"/><rect x="639.62" y="85.60" width="13.16" height="5.55" fill="#ffd000"/><rect x="652.48" y="85.60" width="13.16" height="5.55" fill="#ff1e1e"/><rect x="665.34" y="85.60" width="13.16" height="5.55" fill="#ffa000"/><rect x="678.20" y="85.60" width="13.16" height="5.55" fill="#80ff80"/><rect x="691.06" y="85.60" width="13.16" height="5.55" fill="#ff5050"/><rect x="421.00" y="90.85" width="13.16" height="5.55" fill="#48ffb8"/><rect x="433.86" y="90.85" width="13.16" height="5.55" fill="#ff0c0c"/><rect x="446.72" y="90.85" width="13.16" height="5.55" fill="#f4ff10"/><rect x="459.58" y="90.85" width="13.16" height="5.55" fill="#ff0c0c"/><rect x="472.44" y="90.85" width="13.16" height="5.55" fill="#b8ff48"/><rect x="485.30" y="90.85" width="13.16" height="5.55" fill="#48ffb8"/><rect x="498.16" y="90.85" width="13.16" height="5.55" fill="#ffd000"/><rect x="511.02" y="90.85" width="13.16" height="5.55" fill="#b8ff48"/><rect x="523.88" y="90.85" width="13.16" height="5.55" fill="#ffa000"/><rect x="536.74" y="90.85" width="13.16" height="5.55" fill="#ff0c0c"/><rect x="549.60" y="90.85" width="13.16" height="5.55" fill="#ff2c2c"/><rect x="562.46" y="90.85" width="13.16" height="5.55" fill="#ff1e1e"/><rect x="575.32" y="90.85" width="13.16" height="5.55" fill="#ff6000"/><rect x="588.18" y="90.85" width="13.16" height="5.55" fill="#ffa000"/><rect x="601.04" y="90.85" width="13.16" height="5.55" fill="#ff3000"/><rect x="613.90" y="90.85" width="13.16" height="5.55" fill="#80ff80"/><rect x="626.76" y="90.85" width="13.16" height="5.55" fill="#80ff80"/><rect x="639.62" y="90.85" width="13.16" height="5.55" fill="#30c0f8"/><rect x="652.48" y="90.85" width="13.16" height="5.55" fill="#b8ff48"/><rect x="665.34" y="90.85" width="13.16" height="5.55" fill="#b8ff48"/><rect x="678.20" y="90.85" width="13.16" height="5.55" fill="#b8ff48"/><rect x="691.06" y="90.85" width="13.16" height="5.55" fill="#ff1e1e"/><rect x="421.00" y="96.10" width="13.16" height="5.55" fill="#10e8ff"/><rect x="433.86" y="96.10" width="13.16" height="5.55" fill="#10e8ff"/><rect x="446.72" y="96.10" width="13.16" height="5.55" fill="#ffd000"/><rect x="459.58" y="96.10" width="13.16" height="5.55" fill="#f4ff10"/><rect x="472.44" y="96.10" width="13.16" height="5.55" fill="#b8ff48"/><rect x="485.30" y="96.10" width="13.16" height="5.55" fill="#000088"/><rect x="498.16" y="96.10" width="13.16" height="5.55" fill="#10e8ff"/><rect x="511.02" y="96.10" width="13.16" height="5.55" fill="#ffd000"/><rect x="523.88" y="96.10" width="13.16" height="5.55" fill="#ff6000"/><rect x="536.74" y="96.10" width="13.16" height="5.55" fill="#ff0c0c"/><rect x="549.60" y="96.10" width="13.16" height="5.55" fill="#ff1e1e"/><rect x="562.46" y="96.10" width="13.16" height="5.55" fill="#ff1e1e"/><rect x="575.32" y="96.10" width="13.16" height="5.55" fill="#ff1e1e"/><rect x="588.18" y="96.10" width="13.16" height="5.55" fill="#f4ff10"/><rect x="601.04" y="96.10" width="13.16" height="5.55" fill="#b8ff48"/><rect x="613.90" y="96.10" width="13.16" height="5.55" fill="#0010c8"/><rect x="626.76" y="96.10" width="13.16" height="5.55" fill="#000088"/><rect x="639.62" y="96.10" width="13.16" height="5.55" fill="#0010c8"/><rect x="652.48" y="96.10" width="13.16" height="5.55" fill="#0010c8"/><rect x="665.34" y="96.10" width="13.16" height="5.55" fill="#0010c8"/><rect x="678.20" y="96.10" width="13.16" height="5.55" fill="#0010c8"/><rect x="691.06" y="96.10" width="13.16" height="5.55" fill="#0010c8"/><rect x="421.00" y="101.35" width="13.16" height="5.55" fill="#000088"/><rect x="433.86" y="101.35" width="13.16" height="5.55" fill="#ff6000"/><rect x="446.72" y="101.35" width="13.16" height="5.55" fill="#ff6000"/><rect x="459.58" y="101.35" width="13.16" height="5.55" fill="#000088"/><rect x="472.44" y="101.35" width="13.16" height="5.55" fill="#ff0c0c"/><rect x="485.30" y="101.35" width="13.16" height="5.55" fill="#ff8400"/><rect x="498.16" y="101.35" width="13.16" height="5.55" fill="#000088"/><rect x="511.02" y="101.35" width="13.16" height="5.55" fill="#ff6000"/><rect x="523.88" y="101.35" width="13.16" height="5.55" fill="#ffa000"/><rect x="536.74" y="101.35" width="13.16" height="5.55" fill="#ff0c0c"/><rect x="549.60" y="101.35" width="13.16" height="5.55" fill="#ff1e1e"/><rect x="562.46" y="101.35" width="13.16" height="5.55" fill="#ff1e1e"/><rect x="575.32" y="101.35" width="13.16" height="5.55" fill="#ff6000"/><rect x="588.18" y="101.35" width="13.16" height="5.55" fill="#ff3000"/><rect x="601.04" y="101.35" width="13.16" height="5.55" fill="#ffa000"/><rect x="613.90" y="101.35" width="13.16" height="5.55" fill="#0010c8"/><rect x="626.76" y="101.35" width="13.16" height="5.55" fill="#1890f0"/><rect x="639.62" y="101.35" width="13.16" height="5.55" fill="#10e8ff"/><rect x="652.48" y="101.35" width="13.16" height="5.55" fill="#10e8ff"/><rect x="665.34" y="101.35" width="13.16" height="5.55" fill="#0010c8"/><rect x="678.20" y="101.35" width="13.16" height="5.55" fill="#0010c8"/><rect x="691.06" y="101.35" width="13.16" height="5.55" fill="#0010c8"/><rect x="421.00" y="106.60" width="13.16" height="5.55" fill="#10e8ff"/><rect x="433.86" y="106.60" width="13.16" height="5.55" fill="#ff0c0c"/><rect x="446.72" y="106.60" width="13.16" height="5.55" fill="#ffd000"/><rect x="459.58" y="106.60" width="13.16" height="5.55" fill="#30c0f8"/><rect x="472.44" y="106.60" width="13.16" height="5.55" fill="#ff0c0c"/><rect x="485.30" y="106.60" width="13.16" height="5.55" fill="#b8ff48"/><rect x="498.16" y="106.60" width="13.16" height="5.55" fill="#1890f0"/><rect x="511.02" y="106.60" width="13.16" height="5.55" fill="#b8ff48"/><rect x="523.88" y="106.60" width="13.16" height="5.55" fill="#f4ff10"/><rect x="536.74" y="106.60" width="13.16" height="5.55" fill="#ff0c0c"/><rect x="549.60" y="106.60" width="13.16" height="5.55" fill="#ff1e1e"/><rect x="562.46" y="106.60" width="13.16" height="5.55" fill="#ff3838"/><rect x="575.32" y="106.60" width="13.16" height="5.55" fill="#ff3000"/><rect x="588.18" y="106.60" width="13.16" height="5.55" fill="#ffd000"/><rect x="601.04" y="106.60" width="13.16" height="5.55" fill="#000088"/><rect x="613.90" y="106.60" width="13.16" height="5.55" fill="#0010c8"/><rect x="626.76" y="106.60" width="13.16" height="5.55" fill="#000088"/><rect x="639.62" y="106.60" width="13.16" height="5.55" fill="#000088"/><rect x="652.48" y="106.60" width="13.16" height="5.55" fill="#30c0f8"/><rect x="665.34" y="106.60" width="13.16" height="5.55" fill="#000088"/><rect x="678.20" y="106.60" width="13.16" height="5.55" fill="#48ffb8"/><rect x="691.06" y="106.60" width="13.16" height="5.55" fill="#000088"/><rect x="421.00" y="111.85" width="13.16" height="5.55" fill="#f4ff10"/><rect x="433.86" y="111.85" width="13.16" height="5.55" fill="#48ffb8"/><rect x="446.72" y="111.85" width="13.16" height="5.55" fill="#b8ff48"/><rect x="459.58" y="111.85" width="13.16" height="5.55" fill="#b8ff48"/><rect x="472.44" y="111.85" width="13.16" height="5.55" fill="#b8ff48"/><rect x="485.30" y="111.85" width="13.16" height="5.55" fill="#ff3838"/><rect x="498.16" y="111.85" width="13.16" height="5.55" fill="#0010c8"/><rect x="511.02" y="111.85" width="13.16" height="5.55" fill="#ff0c0c"/><rect x="523.88" y="111.85" width="13.16" height="5.55" fill="#ff0c0c"/><rect x="536.74" y="111.85" width="13.16" height="5.55" fill="#ff1e1e"/><rect x="549.60" y="111.85" width="13.16" height="5.55" fill="#ff2c2c"/><rect x="562.46" y="111.85" width="13.16" height="5.55" fill="#ffd000"/><rect x="575.32" y="111.85" width="13.16" height="5.55" fill="#48ffb8"/><rect x="588.18" y="111.85" width="13.16" height="5.55" fill="#b8ff48"/><rect x="601.04" y="111.85" width="13.16" height="5.55" fill="#80ff80"/><rect x="613.90" y="111.85" width="13.16" height="5.55" fill="#10e8ff"/><rect x="626.76" y="111.85" width="13.16" height="5.55" fill="#1890f0"/><rect x="639.62" y="111.85" width="13.16" height="5.55" fill="#ff8400"/><rect x="652.48" y="111.85" width="13.16" height="5.55" fill="#ff3000"/><rect x="665.34" y="111.85" width="13.16" height="5.55" fill="#ff0c0c"/><rect x="678.20" y="111.85" width="13.16" height="5.55" fill="#80ff80"/><rect x="691.06" y="111.85" width="13.16" height="5.55" fill="#000088"/><rect x="421.00" y="117.10" width="13.16" height="5.55" fill="#b8ff48"/><rect x="433.86" y="117.10" width="13.16" height="5.55" fill="#ffa000"/><rect x="446.72" y="117.10" width="13.16" height="5.55" fill="#ff0c0c"/><rect x="459.58" y="117.10" width="13.16" height="5.55" fill="#ff6000"/><rect x="472.44" y="117.10" width="13.16" height="5.55" fill="#ffd000"/><rect x="485.30" y="117.10" width="13.16" height="5.55" fill="#ff3838"/><rect x="498.16" y="117.10" width="13.16" height="5.55" fill="#ff3838"/><rect x="511.02" y="117.10" width="13.16" height="5.55" fill="#ff4444"/><rect x="523.88" y="117.10" width="13.16" height="5.55" fill="#ff4444"/><rect x="536.74" y="117.10" width="13.16" height="5.55" fill="#ffa000"/><rect x="549.60" y="117.10" width="13.16" height="5.55" fill="#ff1e1e"/><rect x="562.46" y="117.10" width="13.16" height="5.55" fill="#ff8400"/><rect x="575.32" y="117.10" width="13.16" height="5.55" fill="#ff1e1e"/><rect x="588.18" y="117.10" width="13.16" height="5.55" fill="#ff2c2c"/><rect x="601.04" y="117.10" width="13.16" height="5.55" fill="#ff4444"/><rect x="613.90" y="117.10" width="13.16" height="5.55" fill="#ff2c2c"/><rect x="626.76" y="117.10" width="13.16" height="5.55" fill="#ff2c2c"/><rect x="639.62" y="117.10" width="13.16" height="5.55" fill="#ff1e1e"/><rect x="652.48" y="117.10" width="13.16" height="5.55" fill="#ff2c2c"/><rect x="665.34" y="117.10" width="13.16" height="5.55" fill="#ffd000"/><rect x="678.20" y="117.10" width="13.16" height="5.55" fill="#ffa000"/><rect x="691.06" y="117.10" width="13.16" height="5.55" fill="#ffd000"/><rect x="421.00" y="122.35" width="13.16" height="5.55" fill="#ff6000"/><rect x="433.86" y="122.35" width="13.16" height="5.55" fill="#ff0c0c"/><rect x="446.72" y="122.35" width="13.16" height="5.55" fill="#ff1e1e"/><rect x="459.58" y="122.35" width="13.16" height="5.55" fill="#ff3838"/><rect x="472.44" y="122.35" width="13.16" height="5.55" fill="#ff3838"/><rect x="485.30" y="122.35" width="13.16" height="5.55" fill="#ff4444"/><rect x="498.16" y="122.35" width="13.16" height="5.55" fill="#ff3838"/><rect x="511.02" y="122.35" width="13.16" height="5.55" fill="#ff3838"/><rect x="523.88" y="122.35" width="13.16" height="5.55" fill="#ff1e1e"/><rect x="536.74" y="122.35" width="13.16" height="5.55" fill="#ff8400"/><rect x="549.60" y="122.35" width="13.16" height="5.55" fill="#ff3838"/><rect x="562.46" y="122.35" width="13.16" height="5.55" fill="#ff2c2c"/><rect x="575.32" y="122.35" width="13.16" height="5.55" fill="#ffa000"/><rect x="588.18" y="122.35" width="13.16" height="5.55" fill="#ff2c2c"/><rect x="601.04" y="122.35" width="13.16" height="5.55" fill="#ff3000"/><rect x="613.90" y="122.35" width="13.16" height="5.55" fill="#ff1e1e"/><rect x="626.76" y="122.35" width="13.16" height="5.55" fill="#ff1e1e"/><rect x="639.62" y="122.35" width="13.16" height="5.55" fill="#ff1e1e"/><rect x="652.48" y="122.35" width="13.16" height="5.55" fill="#ff1e1e"/><rect x="665.34" y="122.35" width="13.16" height="5.55" fill="#ff4444"/><rect x="678.20" y="122.35" width="13.16" height="5.55" fill="#ff3838"/><rect x="691.06" y="122.35" width="13.16" height="5.55" fill="#ff3000"/><rect x="421.00" y="127.60" width="13.16" height="5.55" fill="#ff1e1e"/><rect x="433.86" y="127.60" width="13.16" height="5.55" fill="#ff2c2c"/><rect x="446.72" y="127.60" width="13.16" height="5.55" fill="#ff2c2c"/><rect x="459.58" y="127.60" width="13.16" height="5.55" fill="#ff1e1e"/><rect x="472.44" y="127.60" width="13.16" height="5.55" fill="#ff1e1e"/><rect x="485.30" y="127.60" width="13.16" height="5.55" fill="#ff2c2c"/><rect x="498.16" y="127.60" width="13.16" height="5.55" fill="#ff2c2c"/><rect x="511.02" y="127.60" width="13.16" height="5.55" fill="#ff2c2c"/><rect x="523.88" y="127.60" width="13.16" height="5.55" fill="#ff2c2c"/><rect x="536.74" y="127.60" width="13.16" height="5.55" fill="#ff1e1e"/><rect x="549.60" y="127.60" width="13.16" height="5.55" fill="#ff1e1e"/><rect x="562.46" y="127.60" width="13.16" height="5.55" fill="#ff2c2c"/><rect x="575.32" y="127.60" width="13.16" height="5.55" fill="#ff2c2c"/><rect x="588.18" y="127.60" width="13.16" height="5.55" fill="#ff2c2c"/><rect x="601.04" y="127.60" width="13.16" height="5.55" fill="#ff2c2c"/><rect x="613.90" y="127.60" width="13.16" height="5.55" fill="#ff2c2c"/><rect x="626.76" y="127.60" width="13.16" height="5.55" fill="#ff3838"/><rect x="639.62" y="127.60" width="13.16" height="5.55" fill="#ff3838"/><rect x="652.48" y="127.60" width="13.16" height="5.55" fill="#ff4444"/><rect x="665.34" y="127.60" width="13.16" height="5.55" fill="#ff0c0c"/><rect x="678.20" y="127.60" width="13.16" height="5.55" fill="#ff0c0c"/><rect x="691.06" y="127.60" width="13.16" height="5.55" fill="#ff1e1e"/><rect x="421.00" y="132.85" width="13.16" height="5.55" fill="#ff1e1e"/><rect x="433.86" y="132.85" width="13.16" height="5.55" fill="#ff2c2c"/><rect x="446.72" y="132.85" width="13.16" height="5.55" fill="#ff3838"/><rect x="459.58" y="132.85" width="13.16" height="5.55" fill="#ff1e1e"/><rect x="472.44" y="132.85" width="13.16" height="5.55" fill="#ff2c2c"/><rect x="485.30" y="132.85" width="13.16" height="5.55" fill="#ff0c0c"/><rect x="498.16" y="132.85" width="13.16" height="5.55" fill="#ff0c0c"/><rect x="511.02" y="132.85" width="13.16" height="5.55" fill="#ff4444"/><rect x="523.88" y="132.85" width="13.16" height="5.55" fill="#ff0c0c"/><rect x="536.74" y="132.85" width="13.16" height="5.55" fill="#ff0c0c"/><rect x="549.60" y="132.85" width="13.16" height="5.55" fill="#ff0c0c"/><rect x="562.46" y="132.85" width="13.16" height="5.55" fill="#ff2c2c"/><rect x="575.32" y="132.85" width="13.16" height="5.55" fill="#ff2c2c"/><rect x="588.18" y="132.85" width="13.16" height="5.55" fill="#ff4444"/><rect x="601.04" y="132.85" width="13.16" height="5.55" fill="#ff4444"/><rect x="613.90" y="132.85" width="13.16" height="5.55" fill="#ff1e1e"/><rect x="626.76" y="132.85" width="13.16" height="5.55" fill="#ff4444"/><rect x="639.62" y="132.85" width="13.16" height="5.55" fill="#ff4444"/><rect x="652.48" y="132.85" width="13.16" height="5.55" fill="#ff4444"/><rect x="665.34" y="132.85" width="13.16" height="5.55" fill="#ff0c0c"/><rect x="678.20" y="132.85" width="13.16" height="5.55" fill="#ff2c2c"/><rect x="691.06" y="132.85" width="13.16" height="5.55" fill="#ff6000"/><rect x="421.00" y="138.10" width="13.16" height="5.55" fill="#ffd000"/><rect x="433.86" y="138.10" width="13.16" height="5.55" fill="#ffa000"/><rect x="446.72" y="138.10" width="13.16" height="5.55" fill="#ffa000"/><rect x="459.58" y="138.10" width="13.16" height="5.55" fill="#ff3000"/><rect x="472.44" y="138.10" width="13.16" height="5.55" fill="#ff4444"/><rect x="485.30" y="138.10" width="13.16" height="5.55" fill="#ff4444"/><rect x="498.16" y="138.10" width="13.16" height="5.55" fill="#ffd000"/><rect x="511.02" y="138.10" width="13.16" height="5.55" fill="#ffd000"/><rect x="523.88" y="138.10" width="13.16" height="5.55" fill="#ffa000"/><rect x="536.74" y="138.10" width="13.16" height="5.55" fill="#ff0c0c"/><rect x="549.60" y="138.10" width="13.16" height="5.55" fill="#ff6000"/><rect x="562.46" y="138.10" width="13.16" height="5.55" fill="#ff2c2c"/><rect x="575.32" y="138.10" width="13.16" height="5.55" fill="#ff1e1e"/><rect x="588.18" y="138.10" width="13.16" height="5.55" fill="#ff3838"/><rect x="601.04" y="138.10" width="13.16" height="5.55" fill="#ff3838"/><rect x="613.90" y="138.10" width="13.16" height="5.55" fill="#ff3838"/><rect x="626.76" y="138.10" width="13.16" height="5.55" fill="#ff3838"/><rect x="639.62" y="138.10" width="13.16" height="5.55" fill="#ff3838"/><rect x="652.48" y="138.10" width="13.16" height="5.55" fill="#ff0c0c"/><rect x="665.34" y="138.10" width="13.16" height="5.55" fill="#ff3000"/><rect x="678.20" y="138.10" width="13.16" height="5.55" fill="#ff6000"/><rect x="691.06" y="138.10" width="13.16" height="5.55" fill="#ff8400"/><rect x="421.00" y="143.35" width="13.16" height="5.55" fill="#80ff80"/><rect x="433.86" y="143.35" width="13.16" height="5.55" fill="#80ff80"/><rect x="446.72" y="143.35" width="13.16" height="5.55" fill="#80ff80"/><rect x="459.58" y="143.35" width="13.16" height="5.55" fill="#ff2c2c"/><rect x="472.44" y="143.35" width="13.16" height="5.55" fill="#ffd000"/><rect x="485.30" y="143.35" width="13.16" height="5.55" fill="#ff4444"/><rect x="498.16" y="143.35" width="13.16" height="5.55" fill="#ff3000"/><rect x="511.02" y="143.35" width="13.16" height="5.55" fill="#ff0c0c"/><rect x="523.88" y="143.35" width="13.16" height="5.55" fill="#ff0c0c"/><rect x="536.74" y="143.35" width="13.16" height="5.55" fill="#ff0c0c"/><rect x="549.60" y="143.35" width="13.16" height="5.55" fill="#f4ff10"/><rect x="562.46" y="143.35" width="13.16" height="5.55" fill="#ff4444"/><rect x="575.32" y="143.35" width="13.16" height="5.55" fill="#ff4444"/><rect x="588.18" y="143.35" width="13.16" height="5.55" fill="#f4ff10"/><rect x="601.04" y="143.35" width="13.16" height="5.55" fill="#ff4444"/><rect x="613.90" y="143.35" width="13.16" height="5.55" fill="#ffd000"/><rect x="626.76" y="143.35" width="13.16" height="5.55" fill="#ffd000"/><rect x="639.62" y="143.35" width="13.16" height="5.55" fill="#ffa000"/><rect x="652.48" y="143.35" width="13.16" height="5.55" fill="#ffa000"/><rect x="665.34" y="143.35" width="13.16" height="5.55" fill="#ffa000"/><rect x="678.20" y="143.35" width="13.16" height="5.55" fill="#ffa000"/><rect x="691.06" y="143.35" width="13.16" height="5.55" fill="#ffa000"/><rect x="421.00" y="148.60" width="13.16" height="5.55" fill="#0010c8"/><rect x="433.86" y="148.60" width="13.16" height="5.55" fill="#10e8ff"/><rect x="446.72" y="148.60" width="13.16" height="5.55" fill="#30c0f8"/><rect x="459.58" y="148.60" width="13.16" height="5.55" fill="#b8ff48"/><rect x="472.44" y="148.60" width="13.16" height="5.55" fill="#ff2c2c"/><rect x="485.30" y="148.60" width="13.16" height="5.55" fill="#ff3000"/><rect x="498.16" y="148.60" width="13.16" height="5.55" fill="#ff0c0c"/><rect x="511.02" y="148.60" width="13.16" height="5.55" fill="#ff1e1e"/><rect x="523.88" y="148.60" width="13.16" height="5.55" fill="#ff6000"/><rect x="536.74" y="148.60" width="13.16" height="5.55" fill="#80ff80"/><rect x="549.60" y="148.60" width="13.16" height="5.55" fill="#ff1e1e"/><rect x="562.46" y="148.60" width="13.16" height="5.55" fill="#ff1e1e"/><rect x="575.32" y="148.60" width="13.16" height="5.55" fill="#ff2c2c"/><rect x="588.18" y="148.60" width="13.16" height="5.55" fill="#ff2c2c"/><rect x="601.04" y="148.60" width="13.16" height="5.55" fill="#ff1e1e"/><rect x="613.90" y="148.60" width="13.16" height="5.55" fill="#ffd000"/><rect x="626.76" y="148.60" width="13.16" height="5.55" fill="#a4ff5c"/><rect x="639.62" y="148.60" width="13.16" height="5.55" fill="#48ffb8"/><rect x="652.48" y="148.60" width="13.16" height="5.55" fill="#10e8ff"/><rect x="665.34" y="148.60" width="13.16" height="5.55" fill="#48ffb8"/><rect x="678.20" y="148.60" width="13.16" height="5.55" fill="#48ffb8"/><rect x="691.06" y="148.60" width="13.16" height="5.55" fill="#48ffb8"/><rect x="421.00" y="153.85" width="13.16" height="5.55" fill="#000088"/><rect x="433.86" y="153.85" width="13.16" height="5.55" fill="#000088"/><rect x="446.72" y="153.85" width="13.16" height="5.55" fill="#000088"/><rect x="459.58" y="153.85" width="13.16" height="5.55" fill="#000088"/><rect x="472.44" y="153.85" width="13.16" height="5.55" fill="#ff6000"/><rect x="485.30" y="153.85" width="13.16" height="5.55" fill="#ff2c2c"/><rect x="498.16" y="153.85" width="13.16" height="5.55" fill="#ff1e1e"/><rect x="511.02" y="153.85" width="13.16" height="5.55" fill="#ff3838"/><rect x="523.88" y="153.85" width="13.16" height="5.55" fill="#ff1e1e"/><rect x="536.74" y="153.85" width="13.16" height="5.55" fill="#80ff80"/><rect x="549.60" y="153.85" width="13.16" height="5.55" fill="#ff3838"/><rect x="562.46" y="153.85" width="13.16" height="5.55" fill="#ff2c2c"/><rect x="575.32" y="153.85" width="13.16" height="5.55" fill="#ff2c2c"/><rect x="588.18" y="153.85" width="13.16" height="5.55" fill="#ff0c0c"/><rect x="601.04" y="153.85" width="13.16" height="5.55" fill="#ffd000"/><rect x="613.90" y="153.85" width="13.16" height="5.55" fill="#48ffb8"/><rect x="626.76" y="153.85" width="13.16" height="5.55" fill="#000088"/><rect x="639.62" y="153.85" width="13.16" height="5.55" fill="#0010c8"/><rect x="652.48" y="153.85" width="13.16" height="5.55" fill="#ff1e1e"/><rect x="665.34" y="153.85" width="13.16" height="5.55" fill="#0010c8"/><rect x="678.20" y="153.85" width="13.16" height="5.55" fill="#0010c8"/><rect x="691.06" y="153.85" width="13.16" height="5.55" fill="#0010c8"/><rect x="421.00" y="159.10" width="13.16" height="5.55" fill="#0010c8"/><rect x="433.86" y="159.10" width="13.16" height="5.55" fill="#1068e0"/><rect x="446.72" y="159.10" width="13.16" height="5.55" fill="#ff1e1e"/><rect x="459.58" y="159.10" width="13.16" height="5.55" fill="#10e8ff"/><rect x="472.44" y="159.10" width="13.16" height="5.55" fill="#ff0c0c"/><rect x="485.30" y="159.10" width="13.16" height="5.55" fill="#ff1e1e"/><rect x="498.16" y="159.10" width="13.16" height="5.55" fill="#ff1e1e"/><rect x="511.02" y="159.10" width="13.16" height="5.55" fill="#ff1e1e"/><rect x="523.88" y="159.10" width="13.16" height="5.55" fill="#ff2c2c"/><rect x="536.74" y="159.10" width="13.16" height="5.55" fill="#ff0c0c"/><rect x="549.60" y="159.10" width="13.16" height="5.55" fill="#ff2c2c"/><rect x="562.46" y="159.10" width="13.16" height="5.55" fill="#ff2c2c"/><rect x="575.32" y="159.10" width="13.16" height="5.55" fill="#ffa000"/><rect x="588.18" y="159.10" width="13.16" height="5.55" fill="#ff2c2c"/><rect x="601.04" y="159.10" width="13.16" height="5.55" fill="#10e8ff"/><rect x="613.90" y="159.10" width="13.16" height="5.55" fill="#f4ff10"/><rect x="626.76" y="159.10" width="13.16" height="5.55" fill="#ffa000"/><rect x="639.62" y="159.10" width="13.16" height="5.55" fill="#ff0c0c"/><rect x="652.48" y="159.10" width="13.16" height="5.55" fill="#ff3838"/><rect x="665.34" y="159.10" width="13.16" height="5.55" fill="#1068e0"/><rect x="678.20" y="159.10" width="13.16" height="5.55" fill="#10e8ff"/><rect x="691.06" y="159.10" width="13.16" height="5.55" fill="#10e8ff"/><rect x="421.00" y="164.35" width="13.16" height="5.55" fill="#80ff80"/><rect x="433.86" y="164.35" width="13.16" height="5.55" fill="#80ff80"/><rect x="446.72" y="164.35" width="13.16" height="5.55" fill="#ff6000"/><rect x="459.58" y="164.35" width="13.16" height="5.55" fill="#ff6000"/><rect x="472.44" y="164.35" width="13.16" height="5.55" fill="#ffa000"/><rect x="485.30" y="164.35" width="13.16" height="5.55" fill="#ff3838"/><rect x="498.16" y="164.35" width="13.16" height="5.55" fill="#ff3838"/><rect x="511.02" y="164.35" width="13.16" height="5.55" fill="#ff3838"/><rect x="523.88" y="164.35" width="13.16" height="5.55" fill="#ff3000"/><rect x="536.74" y="164.35" width="13.16" height="5.55" fill="#ff0c0c"/><rect x="549.60" y="164.35" width="13.16" height="5.55" fill="#ff1e1e"/><rect x="562.46" y="164.35" width="13.16" height="5.55" fill="#ff4444"/><rect x="575.32" y="164.35" width="13.16" height="5.55" fill="#ff3838"/><rect x="588.18" y="164.35" width="13.16" height="5.55" fill="#ff3838"/><rect x="601.04" y="164.35" width="13.16" height="5.55" fill="#f4ff10"/><rect x="613.90" y="164.35" width="13.16" height="5.55" fill="#f4ff10"/><rect x="626.76" y="164.35" width="13.16" height="5.55" fill="#ffa000"/><rect x="639.62" y="164.35" width="13.16" height="5.55" fill="#ffd000"/><rect x="652.48" y="164.35" width="13.16" height="5.55" fill="#10e8ff"/><rect x="665.34" y="164.35" width="13.16" height="5.55" fill="#ff0c0c"/><rect x="678.20" y="164.35" width="13.16" height="5.55" fill="#ff0c0c"/><rect x="691.06" y="164.35" width="13.16" height="5.55" fill="#a4ff5c"/><rect x="421.00" y="169.60" width="13.16" height="5.55" fill="#ffd000"/><rect x="433.86" y="169.60" width="13.16" height="5.55" fill="#ffa000"/><rect x="446.72" y="169.60" width="13.16" height="5.55" fill="#ff6000"/><rect x="459.58" y="169.60" width="13.16" height="5.55" fill="#ff3000"/><rect x="472.44" y="169.60" width="13.16" height="5.55" fill="#ff0c0c"/><rect x="485.30" y="169.60" width="13.16" height="5.55" fill="#ff3838"/><rect x="498.16" y="169.60" width="13.16" height="5.55" fill="#ff6000"/><rect x="511.02" y="169.60" width="13.16" height="5.55" fill="#ffd000"/><rect x="523.88" y="169.60" width="13.16" height="5.55" fill="#ff3838"/><rect x="536.74" y="169.60" width="13.16" height="5.55" fill="#ffa000"/><rect x="549.60" y="169.60" width="13.16" height="5.55" fill="#ff1e1e"/><rect x="562.46" y="169.60" width="13.16" height="5.55" fill="#ff2c2c"/><rect x="575.32" y="169.60" width="13.16" height="5.55" fill="#ff2c2c"/><rect x="588.18" y="169.60" width="13.16" height="5.55" fill="#ff3838"/><rect x="601.04" y="169.60" width="13.16" height="5.55" fill="#ff4444"/><rect x="613.90" y="169.60" width="13.16" height="5.55" fill="#ff4444"/><rect x="626.76" y="169.60" width="13.16" height="5.55" fill="#ff0c0c"/><rect x="639.62" y="169.60" width="13.16" height="5.55" fill="#ff6000"/><rect x="652.48" y="169.60" width="13.16" height="5.55" fill="#ff8400"/><rect x="665.34" y="169.60" width="13.16" height="5.55" fill="#ff0c0c"/><rect x="678.20" y="169.60" width="13.16" height="5.55" fill="#f4ff10"/><rect x="691.06" y="169.60" width="13.16" height="5.55" fill="#f4ff10"/><rect x="421.00" y="174.85" width="13.16" height="5.55" fill="#ff0c0c"/><rect x="433.86" y="174.85" width="13.16" height="5.55" fill="#ff1e1e"/><rect x="446.72" y="174.85" width="13.16" height="5.55" fill="#ff2c2c"/><rect x="459.58" y="174.85" width="13.16" height="5.55" fill="#ff4444"/><rect x="472.44" y="174.85" width="13.16" height="5.55" fill="#ff1e1e"/><rect x="485.30" y="174.85" width="13.16" height="5.55" fill="#ff6000"/><rect x="498.16" y="174.85" width="13.16" height="5.55" fill="#ff0c0c"/><rect x="511.02" y="174.85" width="13.16" height="5.55" fill="#ff3838"/><rect x="523.88" y="174.85" width="13.16" height="5.55" fill="#ff1e1e"/><rect x="536.74" y="174.85" width="13.16" height="5.55" fill="#ff3838"/><rect x="549.60" y="174.85" width="13.16" height="5.55" fill="#ff0c0c"/><rect x="562.46" y="174.85" width="13.16" height="5.55" fill="#ff1e1e"/><rect x="575.32" y="174.85" width="13.16" height="5.55" fill="#ff2c2c"/><rect x="588.18" y="174.85" width="13.16" height="5.55" fill="#ff1e1e"/><rect x="601.04" y="174.85" width="13.16" height="5.55" fill="#ff8400"/><rect x="613.90" y="174.85" width="13.16" height="5.55" fill="#ff1e1e"/><rect x="626.76" y="174.85" width="13.16" height="5.55" fill="#ff2c2c"/><rect x="639.62" y="174.85" width="13.16" height="5.55" fill="#ff2c2c"/><rect x="652.48" y="174.85" width="13.16" height="5.55" fill="#ff0c0c"/><rect x="665.34" y="174.85" width="13.16" height="5.55" fill="#ff4444"/><rect x="678.20" y="174.85" width="13.16" height="5.55" fill="#ff0c0c"/><rect x="691.06" y="174.85" width="13.16" height="5.55" fill="#ff0c0c"/><rect x="421.00" y="180.10" width="13.16" height="5.55" fill="#ff1e1e"/><rect x="433.86" y="180.10" width="13.16" height="5.55" fill="#ff1e1e"/><rect x="446.72" y="180.10" width="13.16" height="5.55" fill="#ff3838"/><rect x="459.58" y="180.10" width="13.16" height="5.55" fill="#ff3838"/><rect x="472.44" y="180.10" width="13.16" height="5.55" fill="#ff2c2c"/><rect x="485.30" y="180.10" width="13.16" height="5.55" fill="#ff6000"/><rect x="498.16" y="180.10" width="13.16" height="5.55" fill="#ff0c0c"/><rect x="511.02" y="180.10" width="13.16" height="5.55" fill="#ff2c2c"/><rect x="523.88" y="180.10" width="13.16" height="5.55" fill="#ff0c0c"/><rect x="536.74" y="180.10" width="13.16" height="5.55" fill="#ff2c2c"/><rect x="549.60" y="180.10" width="13.16" height="5.55" fill="#ff2c2c"/><rect x="562.46" y="180.10" width="13.16" height="5.55" fill="#ffa000"/><rect x="575.32" y="180.10" width="13.16" height="5.55" fill="#ff3000"/><rect x="588.18" y="180.10" width="13.16" height="5.55" fill="#b8ff48"/><rect x="601.04" y="180.10" width="13.16" height="5.55" fill="#ff2c2c"/><rect x="613.90" y="180.10" width="13.16" height="5.55" fill="#ff3838"/><rect x="626.76" y="180.10" width="13.16" height="5.55" fill="#f4ff10"/><rect x="639.62" y="180.10" width="13.16" height="5.55" fill="#ff0c0c"/><rect x="652.48" y="180.10" width="13.16" height="5.55" fill="#ff3838"/><rect x="665.34" y="180.10" width="13.16" height="5.55" fill="#ff3838"/><rect x="678.20" y="180.10" width="13.16" height="5.55" fill="#ff3838"/><rect x="691.06" y="180.10" width="13.16" height="5.55" fill="#f4ff10"/><rect x="421.00" y="185.35" width="13.16" height="5.55" fill="#ff6000"/><rect x="433.86" y="185.35" width="13.16" height="5.55" fill="#ff6000"/><rect x="446.72" y="185.35" width="13.16" height="5.55" fill="#ff2c2c"/><rect x="459.58" y="185.35" width="13.16" height="5.55" fill="#ff2c2c"/><rect x="472.44" y="185.35" width="13.16" height="5.55" fill="#ff2c2c"/><rect x="485.30" y="185.35" width="13.16" height="5.55" fill="#ff4444"/><rect x="498.16" y="185.35" width="13.16" height="5.55" fill="#ff4444"/><rect x="511.02" y="185.35" width="13.16" height="5.55" fill="#ff0c0c"/><rect x="523.88" y="185.35" width="13.16" height="5.55" fill="#ff1e1e"/><rect x="536.74" y="185.35" width="13.16" height="5.55" fill="#ffa000"/><rect x="549.60" y="185.35" width="13.16" height="5.55" fill="#b8ff48"/><rect x="562.46" y="185.35" width="13.16" height="5.55" fill="#f4ff10"/><rect x="575.32" y="185.35" width="13.16" height="5.55" fill="#ff1e1e"/><rect x="588.18" y="185.35" width="13.16" height="5.55" fill="#ff3838"/><rect x="601.04" y="185.35" width="13.16" height="5.55" fill="#b8ff48"/><rect x="613.90" y="185.35" width="13.16" height="5.55" fill="#ff4444"/><rect x="626.76" y="185.35" width="13.16" height="5.55" fill="#ff4444"/><rect x="639.62" y="185.35" width="13.16" height="5.55" fill="#ff4444"/><rect x="652.48" y="185.35" width="13.16" height="5.55" fill="#ff2c2c"/><rect x="665.34" y="185.35" width="13.16" height="5.55" fill="#ff2c2c"/><rect x="678.20" y="185.35" width="13.16" height="5.55" fill="#ff3838"/><rect x="691.06" y="185.35" width="13.16" height="5.55" fill="#ff4444"/><rect x="421.00" y="190.60" width="13.16" height="5.55" fill="#ff8400"/><rect x="433.86" y="190.60" width="13.16" height="5.55" fill="#ff8400"/><rect x="446.72" y="190.60" width="13.16" height="5.55" fill="#ff1e1e"/><rect x="459.58" y="190.60" width="13.16" height="5.55" fill="#ff6000"/><rect x="472.44" y="190.60" width="13.16" height="5.55" fill="#ff6000"/><rect x="485.30" y="190.60" width="13.16" height="5.55" fill="#ff3000"/><rect x="498.16" y="190.60" width="13.16" height="5.55" fill="#ff0c0c"/><rect x="511.02" y="190.60" width="13.16" height="5.55" fill="#ffa000"/><rect x="523.88" y="190.60" width="13.16" height="5.55" fill="#ffd000"/><rect x="536.74" y="190.60" width="13.16" height="5.55" fill="#ffa000"/><rect x="549.60" y="190.60" width="13.16" height="5.55" fill="#ff1e1e"/><rect x="562.46" y="190.60" width="13.16" height="5.55" fill="#ffa000"/><rect x="575.32" y="190.60" width="13.16" height="5.55" fill="#ff0c0c"/><rect x="588.18" y="190.60" width="13.16" height="5.55" fill="#ff4444"/><rect x="601.04" y="190.60" width="13.16" height="5.55" fill="#ff4444"/><rect x="613.90" y="190.60" width="13.16" height="5.55" fill="#ff2c2c"/><rect x="626.76" y="190.60" width="13.16" height="5.55" fill="#ff0c0c"/><rect x="639.62" y="190.60" width="13.16" height="5.55" fill="#ff0c0c"/><rect x="652.48" y="190.60" width="13.16" height="5.55" fill="#ff0c0c"/><rect x="665.34" y="190.60" width="13.16" height="5.55" fill="#ff0c0c"/><rect x="678.20" y="190.60" width="13.16" height="5.55" fill="#ff0c0c"/><rect x="691.06" y="190.60" width="13.16" height="5.55" fill="#ff1e1e"/><rect x="421.00" y="195.85" width="13.16" height="5.55" fill="#b8ff48"/><rect x="433.86" y="195.85" width="13.16" height="5.55" fill="#f4ff10"/><rect x="446.72" y="195.85" width="13.16" height="5.55" fill="#ff0c0c"/><rect x="459.58" y="195.85" width="13.16" height="5.55" fill="#ff0c0c"/><rect x="472.44" y="195.85" width="13.16" height="5.55" fill="#ff1e1e"/><rect x="485.30" y="195.85" width="13.16" height="5.55" fill="#ff3000"/><rect x="498.16" y="195.85" width="13.16" height="5.55" fill="#ff2c2c"/><rect x="511.02" y="195.85" width="13.16" height="5.55" fill="#f4ff10"/><rect x="523.88" y="195.85" width="13.16" height="5.55" fill="#ffa000"/><rect x="536.74" y="195.85" width="13.16" height="5.55" fill="#ff1e1e"/><rect x="549.60" y="195.85" width="13.16" height="5.55" fill="#ff3000"/><rect x="562.46" y="195.85" width="13.16" height="5.55" fill="#ffd000"/><rect x="575.32" y="195.85" width="13.16" height="5.55" fill="#ff0c0c"/><rect x="588.18" y="195.85" width="13.16" height="5.55" fill="#f4ff10"/><rect x="601.04" y="195.85" width="13.16" height="5.55" fill="#80ff80"/><rect x="613.90" y="195.85" width="13.16" height="5.55" fill="#b8ff48"/><rect x="626.76" y="195.85" width="13.16" height="5.55" fill="#b8ff48"/><rect x="639.62" y="195.85" width="13.16" height="5.55" fill="#b8ff48"/><rect x="652.48" y="195.85" width="13.16" height="5.55" fill="#b8ff48"/><rect x="665.34" y="195.85" width="13.16" height="5.55" fill="#b8ff48"/><rect x="678.20" y="195.85" width="13.16" height="5.55" fill="#b8ff48"/><rect x="691.06" y="195.85" width="13.16" height="5.55" fill="#b8ff48"/><rect x="421.00" y="201.10" width="13.16" height="5.55" fill="#10e8ff"/><rect x="433.86" y="201.10" width="13.16" height="5.55" fill="#10e8ff"/><rect x="446.72" y="201.10" width="13.16" height="5.55" fill="#ff1e1e"/><rect x="459.58" y="201.10" width="13.16" height="5.55" fill="#ff0c0c"/><rect x="472.44" y="201.10" width="13.16" height="5.55" fill="#ff0c0c"/><rect x="485.30" y="201.10" width="13.16" height="5.55" fill="#ff3000"/><rect x="498.16" y="201.10" width="13.16" height="5.55" fill="#ff6000"/><rect x="511.02" y="201.10" width="13.16" height="5.55" fill="#ff8400"/><rect x="523.88" y="201.10" width="13.16" height="5.55" fill="#f4ff10"/><rect x="536.74" y="201.10" width="13.16" height="5.55" fill="#ff1e1e"/><rect x="549.60" y="201.10" width="13.16" height="5.55" fill="#ff2c2c"/><rect x="562.46" y="201.10" width="13.16" height="5.55" fill="#ff1e1e"/><rect x="575.32" y="201.10" width="13.16" height="5.55" fill="#ff3000"/><rect x="588.18" y="201.10" width="13.16" height="5.55" fill="#f4ff10"/><rect x="601.04" y="201.10" width="13.16" height="5.55" fill="#10e8ff"/><rect x="613.90" y="201.10" width="13.16" height="5.55" fill="#0010c8"/><rect x="626.76" y="201.10" width="13.16" height="5.55" fill="#1890f0"/><rect x="639.62" y="201.10" width="13.16" height="5.55" fill="#30c0f8"/><rect x="652.48" y="201.10" width="13.16" height="5.55" fill="#30c0f8"/><rect x="665.34" y="201.10" width="13.16" height="5.55" fill="#10e8ff"/><rect x="678.20" y="201.10" width="13.16" height="5.55" fill="#10e8ff"/><rect x="691.06" y="201.10" width="13.16" height="5.55" fill="#10e8ff"/><rect x="421.00" y="206.35" width="13.16" height="5.55" fill="#ff6000"/><rect x="433.86" y="206.35" width="13.16" height="5.55" fill="#ff6000"/><rect x="446.72" y="206.35" width="13.16" height="5.55" fill="#ff6000"/><rect x="459.58" y="206.35" width="13.16" height="5.55" fill="#ff6000"/><rect x="472.44" y="206.35" width="13.16" height="5.55" fill="#ffa000"/><rect x="485.30" y="206.35" width="13.16" height="5.55" fill="#ff0c0c"/><rect x="498.16" y="206.35" width="13.16" height="5.55" fill="#ffd000"/><rect x="511.02" y="206.35" width="13.16" height="5.55" fill="#ff1e1e"/><rect x="523.88" y="206.35" width="13.16" height="5.55" fill="#ffa000"/><rect x="536.74" y="206.35" width="13.16" height="5.55" fill="#ff4444"/><rect x="549.60" y="206.35" width="13.16" height="5.55" fill="#ff3838"/><rect x="562.46" y="206.35" width="13.16" height="5.55" fill="#ff1e1e"/><rect x="575.32" y="206.35" width="13.16" height="5.55" fill="#ff8400"/><rect x="588.18" y="206.35" width="13.16" height="5.55" fill="#b8ff48"/><rect x="601.04" y="206.35" width="13.16" height="5.55" fill="#10e8ff"/><rect x="613.90" y="206.35" width="13.16" height="5.55" fill="#1068e0"/><rect x="626.76" y="206.35" width="13.16" height="5.55" fill="#0010c8"/><rect x="639.62" y="206.35" width="13.16" height="5.55" fill="#0010c8"/><rect x="652.48" y="206.35" width="13.16" height="5.55" fill="#0010c8"/><rect x="665.34" y="206.35" width="13.16" height="5.55" fill="#0000b0"/><rect x="678.20" y="206.35" width="13.16" height="5.55" fill="#000088"/><rect x="691.06" y="206.35" width="13.16" height="5.55" fill="#000088"/><rect x="36.40" y="282.20" width="27.25" height="5.55" fill="#000088"/><rect x="63.35" y="282.20" width="27.25" height="5.55" fill="#000088"/><rect x="90.30" y="282.20" width="27.25" height="5.55" fill="#000088"/><rect x="117.25" y="282.20" width="27.25" height="5.55" fill="#000088"/><rect x="144.20" y="282.20" width="27.25" height="5.55" fill="#38f0e0"/><rect x="171.15" y="282.20" width="27.25" height="5.55" fill="#ffd000"/><rect x="198.10" y="282.20" width="27.25" height="5.55" fill="#ff0c0c"/><rect x="225.05" y="282.20" width="27.25" height="5.55" fill="#ff0c0c"/><rect x="252.00" y="282.20" width="27.25" height="5.55" fill="#ff0c0c"/><rect x="278.95" y="282.20" width="27.25" height="5.55" fill="#ff1e1e"/><rect x="305.90" y="282.20" width="27.25" height="5.55" fill="#ff1e1e"/><rect x="36.40" y="287.45" width="27.25" height="5.55" fill="#000088"/><rect x="63.35" y="287.45" width="27.25" height="5.55" fill="#000088"/><rect x="90.30" y="287.45" width="27.25" height="5.55" fill="#000088"/><rect x="117.25" y="287.45" width="27.25" height="5.55" fill="#000088"/><rect x="144.20" y="287.45" width="27.25" height="5.55" fill="#38f0e0"/><rect x="171.15" y="287.45" width="27.25" height="5.55" fill="#ff0c0c"/><rect x="198.10" y="287.45" width="27.25" height="5.55" fill="#ff2c2c"/><rect x="225.05" y="287.45" width="27.25" height="5.55" fill="#ff3838"/><rect x="252.00" y="287.45" width="27.25" height="5.55" fill="#ff0c0c"/><rect x="278.95" y="287.45" width="27.25" height="5.55" fill="#ff0c0c"/><rect x="305.90" y="287.45" width="27.25" height="5.55" fill="#ff3838"/><rect x="36.40" y="292.70" width="27.25" height="5.55" fill="#a4ff5c"/><rect x="63.35" y="292.70" width="27.25" height="5.55" fill="#a4ff5c"/><rect x="90.30" y="292.70" width="27.25" height="5.55" fill="#0000b0"/><rect x="117.25" y="292.70" width="27.25" height="5.55" fill="#ffa000"/><rect x="144.20" y="292.70" width="27.25" height="5.55" fill="#ff6000"/><rect x="171.15" y="292.70" width="27.25" height="5.55" fill="#ff0c0c"/><rect x="198.10" y="292.70" width="27.25" height="5.55" fill="#ff3838"/><rect x="225.05" y="292.70" width="27.25" height="5.55" fill="#ff4444"/><rect x="252.00" y="292.70" width="27.25" height="5.55" fill="#ff0c0c"/><rect x="278.95" y="292.70" width="27.25" height="5.55" fill="#ff1e1e"/><rect x="305.90" y="292.70" width="27.25" height="5.55" fill="#ff1e1e"/><rect x="36.40" y="297.95" width="27.25" height="5.55" fill="#1890f0"/><rect x="63.35" y="297.95" width="27.25" height="5.55" fill="#1890f0"/><rect x="90.30" y="297.95" width="27.25" height="5.55" fill="#10e8ff"/><rect x="117.25" y="297.95" width="27.25" height="5.55" fill="#80ff80"/><rect x="144.20" y="297.95" width="27.25" height="5.55" fill="#b8ff48"/><rect x="171.15" y="297.95" width="27.25" height="5.55" fill="#ff6000"/><rect x="198.10" y="297.95" width="27.25" height="5.55" fill="#ff0c0c"/><rect x="225.05" y="297.95" width="27.25" height="5.55" fill="#ff1e1e"/><rect x="252.00" y="297.95" width="27.25" height="5.55" fill="#ff2c2c"/><rect x="278.95" y="297.95" width="27.25" height="5.55" fill="#ff3838"/><rect x="305.90" y="297.95" width="27.25" height="5.55" fill="#ff3838"/><rect x="36.40" y="303.20" width="27.25" height="5.55" fill="#0010c8"/><rect x="63.35" y="303.20" width="27.25" height="5.55" fill="#0010c8"/><rect x="90.30" y="303.20" width="27.25" height="5.55" fill="#1890f0"/><rect x="117.25" y="303.20" width="27.25" height="5.55" fill="#0010c8"/><rect x="144.20" y="303.20" width="27.25" height="5.55" fill="#b8ff48"/><rect x="171.15" y="303.20" width="27.25" height="5.55" fill="#ffd000"/><rect x="198.10" y="303.20" width="27.25" height="5.55" fill="#ff8400"/><rect x="225.05" y="303.20" width="27.25" height="5.55" fill="#ff0c0c"/><rect x="252.00" y="303.20" width="27.25" height="5.55" fill="#ff3838"/><rect x="278.95" y="303.20" width="27.25" height="5.55" fill="#ff3838"/><rect x="305.90" y="303.20" width="27.25" height="5.55" fill="#ff4444"/><rect x="36.40" y="308.45" width="27.25" height="5.55" fill="#000088"/><rect x="63.35" y="308.45" width="27.25" height="5.55" fill="#000088"/><rect x="90.30" y="308.45" width="27.25" height="5.55" fill="#000088"/><rect x="117.25" y="308.45" width="27.25" height="5.55" fill="#0010c8"/><rect x="144.20" y="308.45" width="27.25" height="5.55" fill="#b8ff48"/><rect x="171.15" y="308.45" width="27.25" height="5.55" fill="#ff2c2c"/><rect x="198.10" y="308.45" width="27.25" height="5.55" fill="#ff1e1e"/><rect x="225.05" y="308.45" width="27.25" height="5.55" fill="#ff2c2c"/><rect x="252.00" y="308.45" width="27.25" height="5.55" fill="#ff2c2c"/><rect x="278.95" y="308.45" width="27.25" height="5.55" fill="#ff3838"/><rect x="305.90" y="308.45" width="27.25" height="5.55" fill="#ff4444"/><rect x="36.40" y="313.70" width="27.25" height="5.55" fill="#000088"/><rect x="63.35" y="313.70" width="27.25" height="5.55" fill="#0010c8"/><rect x="90.30" y="313.70" width="27.25" height="5.55" fill="#000088"/><rect x="117.25" y="313.70" width="27.25" height="5.55" fill="#80ff80"/><rect x="144.20" y="313.70" width="27.25" height="5.55" fill="#b8ff48"/><rect x="171.15" y="313.70" width="27.25" height="5.55" fill="#ff0c0c"/><rect x="198.10" y="313.70" width="27.25" height="5.55" fill="#ff3838"/><rect x="225.05" y="313.70" width="27.25" height="5.55" fill="#ff2c2c"/><rect x="252.00" y="313.70" width="27.25" height="5.55" fill="#ff0c0c"/><rect x="278.95" y="313.70" width="27.25" height="5.55" fill="#ff3838"/><rect x="305.90" y="313.70" width="27.25" height="5.55" fill="#ff4444"/><rect x="36.40" y="318.95" width="27.25" height="5.55" fill="#000088"/><rect x="63.35" y="318.95" width="27.25" height="5.55" fill="#0010c8"/><rect x="90.30" y="318.95" width="27.25" height="5.55" fill="#80ff80"/><rect x="117.25" y="318.95" width="27.25" height="5.55" fill="#b8ff48"/><rect x="144.20" y="318.95" width="27.25" height="5.55" fill="#b8ff48"/><rect x="171.15" y="318.95" width="27.25" height="5.55" fill="#ffa000"/><rect x="198.10" y="318.95" width="27.25" height="5.55" fill="#ff2c2c"/><rect x="225.05" y="318.95" width="27.25" height="5.55" fill="#ff2c2c"/><rect x="252.00" y="318.95" width="27.25" height="5.55" fill="#ff2c2c"/><rect x="278.95" y="318.95" width="27.25" height="5.55" fill="#ff0c0c"/><rect x="305.90" y="318.95" width="27.25" height="5.55" fill="#ff4444"/><rect x="36.40" y="324.20" width="27.25" height="5.55" fill="#000088"/><rect x="63.35" y="324.20" width="27.25" height="5.55" fill="#0010c8"/><rect x="90.30" y="324.20" width="27.25" height="5.55" fill="#000088"/><rect x="117.25" y="324.20" width="27.25" height="5.55" fill="#1890f0"/><rect x="144.20" y="324.20" width="27.25" height="5.55" fill="#b8ff48"/><rect x="171.15" y="324.20" width="27.25" height="5.55" fill="#ffa000"/><rect x="198.10" y="324.20" width="27.25" height="5.55" fill="#ff0c0c"/><rect x="225.05" y="324.20" width="27.25" height="5.55" fill="#ff1e1e"/><rect x="252.00" y="324.20" width="27.25" height="5.55" fill="#ff2c2c"/><rect x="278.95" y="324.20" width="27.25" height="5.55" fill="#ff4444"/><rect x="305.90" y="324.20" width="27.25" height="5.55" fill="#ff0c0c"/><rect x="36.40" y="329.45" width="27.25" height="5.55" fill="#000088"/><rect x="63.35" y="329.45" width="27.25" height="5.55" fill="#0010c8"/><rect x="90.30" y="329.45" width="27.25" height="5.55" fill="#1068e0"/><rect x="117.25" y="329.45" width="27.25" height="5.55" fill="#1890f0"/><rect x="144.20" y="329.45" width="27.25" height="5.55" fill="#48ffb8"/><rect x="171.15" y="329.45" width="27.25" height="5.55" fill="#ff1e1e"/><rect x="198.10" y="329.45" width="27.25" height="5.55" fill="#ff2c2c"/><rect x="225.05" y="329.45" width="27.25" height="5.55" fill="#ff1e1e"/><rect x="252.00" y="329.45" width="27.25" height="5.55" fill="#ff2c2c"/><rect x="278.95" y="329.45" width="27.25" height="5.55" fill="#ff3838"/><rect x="305.90" y="329.45" width="27.25" height="5.55" fill="#ff3000"/><rect x="36.40" y="334.70" width="27.25" height="5.55" fill="#000088"/><rect x="63.35" y="334.70" width="27.25" height="5.55" fill="#0010c8"/><rect x="90.30" y="334.70" width="27.25" height="5.55" fill="#1068e0"/><rect x="117.25" y="334.70" width="27.25" height="5.55" fill="#1890f0"/><rect x="144.20" y="334.70" width="27.25" height="5.55" fill="#f4ff10"/><rect x="171.15" y="334.70" width="27.25" height="5.55" fill="#ff6000"/><rect x="198.10" y="334.70" width="27.25" height="5.55" fill="#ff0c0c"/><rect x="225.05" y="334.70" width="27.25" height="5.55" fill="#ff1e1e"/><rect x="252.00" y="334.70" width="27.25" height="5.55" fill="#ff2c2c"/><rect x="278.95" y="334.70" width="27.25" height="5.55" fill="#ff3838"/><rect x="305.90" y="334.70" width="27.25" height="5.55" fill="#ff1e1e"/><rect x="36.40" y="339.95" width="27.25" height="5.55" fill="#0010c8"/><rect x="63.35" y="339.95" width="27.25" height="5.55" fill="#0010c8"/><rect x="90.30" y="339.95" width="27.25" height="5.55" fill="#80ff80"/><rect x="117.25" y="339.95" width="27.25" height="5.55" fill="#b8ff48"/><rect x="144.20" y="339.95" width="27.25" height="5.55" fill="#ffa000"/><rect x="171.15" y="339.95" width="27.25" height="5.55" fill="#ffd000"/><rect x="198.10" y="339.95" width="27.25" height="5.55" fill="#ffa000"/><rect x="225.05" y="339.95" width="27.25" height="5.55" fill="#ffa000"/><rect x="252.00" y="339.95" width="27.25" height="5.55" fill="#ff0c0c"/><rect x="278.95" y="339.95" width="27.25" height="5.55" fill="#ff3838"/><rect x="305.90" y="339.95" width="27.25" height="5.55" fill="#ff5050"/><rect x="36.40" y="345.20" width="27.25" height="5.55" fill="#000088"/><rect x="63.35" y="345.20" width="27.25" height="5.55" fill="#1890f0"/><rect x="90.30" y="345.20" width="27.25" height="5.55" fill="#80ff80"/><rect x="117.25" y="345.20" width="27.25" height="5.55" fill="#f4ff10"/><rect x="144.20" y="345.20" width="27.25" height="5.55" fill="#f4ff10"/><rect x="171.15" y="345.20" width="27.25" height="5.55" fill="#ff3000"/><rect x="198.10" y="345.20" width="27.25" height="5.55" fill="#ff0c0c"/><rect x="225.05" y="345.20" width="27.25" height="5.55" fill="#ff6000"/><rect x="252.00" y="345.20" width="27.25" height="5.55" fill="#ff0c0c"/><rect x="278.95" y="345.20" width="27.25" height="5.55" fill="#ff3838"/><rect x="305.90" y="345.20" width="27.25" height="5.55" fill="#ff5050"/><rect x="36.40" y="350.45" width="27.25" height="5.55" fill="#000088"/><rect x="63.35" y="350.45" width="27.25" height="5.55" fill="#000088"/><rect x="90.30" y="350.45" width="27.25" height="5.55" fill="#0010c8"/><rect x="117.25" y="350.45" width="27.25" height="5.55" fill="#f4ff10"/><rect x="144.20" y="350.45" width="27.25" height="5.55" fill="#f4ff10"/><rect x="171.15" y="350.45" width="27.25" height="5.55" fill="#ffa000"/><rect x="198.10" y="350.45" width="27.25" height="5.55" fill="#ff2c2c"/><rect x="225.05" y="350.45" width="27.25" height="5.55" fill="#ff0c0c"/><rect x="252.00" y="350.45" width="27.25" height="5.55" fill="#ff3000"/><rect x="278.95" y="350.45" width="27.25" height="5.55" fill="#ff3838"/><rect x="305.90" y="350.45" width="27.25" height="5.55" fill="#ff4444"/><rect x="36.40" y="355.70" width="27.25" height="5.55" fill="#000088"/><rect x="63.35" y="355.70" width="27.25" height="5.55" fill="#000088"/><rect x="90.30" y="355.70" width="27.25" height="5.55" fill="#0010c8"/><rect x="117.25" y="355.70" width="27.25" height="5.55" fill="#000088"/><rect x="144.20" y="355.70" width="27.25" height="5.55" fill="#b8ff48"/><rect x="171.15" y="355.70" width="27.25" height="5.55" fill="#ff3000"/><rect x="198.10" y="355.70" width="27.25" height="5.55" fill="#ff3838"/><rect x="225.05" y="355.70" width="27.25" height="5.55" fill="#ff1e1e"/><rect x="252.00" y="355.70" width="27.25" height="5.55" fill="#ff1e1e"/><rect x="278.95" y="355.70" width="27.25" height="5.55" fill="#ff3838"/><rect x="305.90" y="355.70" width="27.25" height="5.55" fill="#ff3838"/><rect x="36.40" y="360.95" width="27.25" height="5.55" fill="#1890f0"/><rect x="63.35" y="360.95" width="27.25" height="5.55" fill="#000088"/><rect x="90.30" y="360.95" width="27.25" height="5.55" fill="#0010c8"/><rect x="117.25" y="360.95" width="27.25" height="5.55" fill="#000088"/><rect x="144.20" y="360.95" width="27.25" height="5.55" fill="#48ffb8"/><rect x="171.15" y="360.95" width="27.25" height="5.55" fill="#ff6000"/><rect x="198.10" y="360.95" width="27.25" height="5.55" fill="#ff2c2c"/><rect x="225.05" y="360.95" width="27.25" height="5.55" fill="#ff4444"/><rect x="252.00" y="360.95" width="27.25" height="5.55" fill="#ff3838"/><rect x="278.95" y="360.95" width="27.25" height="5.55" fill="#ff3838"/><rect x="305.90" y="360.95" width="27.25" height="5.55" fill="#ff5050"/><rect x="36.40" y="366.20" width="27.25" height="5.55" fill="#10e8ff"/><rect x="63.35" y="366.20" width="27.25" height="5.55" fill="#80ff80"/><rect x="90.30" y="366.20" width="27.25" height="5.55" fill="#10e8ff"/><rect x="117.25" y="366.20" width="27.25" height="5.55" fill="#80ff80"/><rect x="144.20" y="366.20" width="27.25" height="5.55" fill="#f4ff10"/><rect x="171.15" y="366.20" width="27.25" height="5.55" fill="#1068e0"/><rect x="198.10" y="366.20" width="27.25" height="5.55" fill="#ff3838"/><rect x="225.05" y="366.20" width="27.25" height="5.55" fill="#ff4444"/><rect x="252.00" y="366.20" width="27.25" height="5.55" fill="#ff6000"/><rect x="278.95" y="366.20" width="27.25" height="5.55" fill="#ff2c2c"/><rect x="305.90" y="366.20" width="27.25" height="5.55" fill="#ff5050"/><rect x="36.40" y="371.45" width="27.25" height="5.55" fill="#000088"/><rect x="63.35" y="371.45" width="27.25" height="5.55" fill="#000088"/><rect x="90.30" y="371.45" width="27.25" height="5.55" fill="#80ff80"/><rect x="117.25" y="371.45" width="27.25" height="5.55" fill="#b8ff48"/><rect x="144.20" y="371.45" width="27.25" height="5.55" fill="#ffd000"/><rect x="171.15" y="371.45" width="27.25" height="5.55" fill="#ffa000"/><rect x="198.10" y="371.45" width="27.25" height="5.55" fill="#80ff80"/><rect x="225.05" y="371.45" width="27.25" height="5.55" fill="#ff4444"/><rect x="252.00" y="371.45" width="27.25" height="5.55" fill="#ff0c0c"/><rect x="278.95" y="371.45" width="27.25" height="5.55" fill="#ff1e1e"/><rect x="305.90" y="371.45" width="27.25" height="5.55" fill="#ff2c2c"/><rect x="36.40" y="376.70" width="27.25" height="5.55" fill="#000088"/><rect x="63.35" y="376.70" width="27.25" height="5.55" fill="#000088"/><rect x="90.30" y="376.70" width="27.25" height="5.55" fill="#000088"/><rect x="117.25" y="376.70" width="27.25" height="5.55" fill="#b8ff48"/><rect x="144.20" y="376.70" width="27.25" height="5.55" fill="#ffa000"/><rect x="171.15" y="376.70" width="27.25" height="5.55" fill="#ffa000"/><rect x="198.10" y="376.70" width="27.25" height="5.55" fill="#ffa000"/><rect x="225.05" y="376.70" width="27.25" height="5.55" fill="#ffd000"/><rect x="252.00" y="376.70" width="27.25" height="5.55" fill="#ffa000"/><rect x="278.95" y="376.70" width="27.25" height="5.55" fill="#ff0c0c"/><rect x="305.90" y="376.70" width="27.25" height="5.55" fill="#ff2c2c"/><rect x="36.40" y="381.95" width="27.25" height="5.55" fill="#000088"/><rect x="63.35" y="381.95" width="27.25" height="5.55" fill="#000088"/><rect x="90.30" y="381.95" width="27.25" height="5.55" fill="#000088"/><rect x="117.25" y="381.95" width="27.25" height="5.55" fill="#ffa000"/><rect x="144.20" y="381.95" width="27.25" height="5.55" fill="#ff6000"/><rect x="171.15" y="381.95" width="27.25" height="5.55" fill="#ff3000"/><rect x="198.10" y="381.95" width="27.25" height="5.55" fill="#ffd000"/><rect x="225.05" y="381.95" width="27.25" height="5.55" fill="#ff3000"/><rect x="252.00" y="381.95" width="27.25" height="5.55" fill="#ff1e1e"/><rect x="278.95" y="381.95" width="27.25" height="5.55" fill="#ff3000"/><rect x="305.90" y="381.95" width="27.25" height="5.55" fill="#ff2c2c"/><rect x="36.40" y="387.20" width="27.25" height="5.55" fill="#000088"/><rect x="63.35" y="387.20" width="27.25" height="5.55" fill="#000088"/><rect x="90.30" y="387.20" width="27.25" height="5.55" fill="#000088"/><rect x="117.25" y="387.20" width="27.25" height="5.55" fill="#b8ff48"/><rect x="144.20" y="387.20" width="27.25" height="5.55" fill="#ffa000"/><rect x="171.15" y="387.20" width="27.25" height="5.55" fill="#ffd000"/><rect x="198.10" y="387.20" width="27.25" height="5.55" fill="#ff8400"/><rect x="225.05" y="387.20" width="27.25" height="5.55" fill="#ff3838"/><rect x="252.00" y="387.20" width="27.25" height="5.55" fill="#ff0c0c"/><rect x="278.95" y="387.20" width="27.25" height="5.55" fill="#ff1e1e"/><rect x="305.90" y="387.20" width="27.25" height="5.55" fill="#ff4444"/><rect x="36.40" y="392.45" width="27.25" height="5.55" fill="#000088"/><rect x="63.35" y="392.45" width="27.25" height="5.55" fill="#000088"/><rect x="90.30" y="392.45" width="27.25" height="5.55" fill="#a4ff5c"/><rect x="117.25" y="392.45" width="27.25" height="5.55" fill="#b8ff48"/><rect x="144.20" y="392.45" width="27.25" height="5.55" fill="#a4ff5c"/><rect x="171.15" y="392.45" width="27.25" height="5.55" fill="#a4ff5c"/><rect x="198.10" y="392.45" width="27.25" height="5.55" fill="#ff0c0c"/><rect x="225.05" y="392.45" width="27.25" height="5.55" fill="#ff3838"/><rect x="252.00" y="392.45" width="27.25" height="5.55" fill="#ff3838"/><rect x="278.95" y="392.45" width="27.25" height="5.55" fill="#ff0c0c"/><rect x="305.90" y="392.45" width="27.25" height="5.55" fill="#f4ff10"/><rect x="36.40" y="397.70" width="27.25" height="5.55" fill="#1890f0"/><rect x="63.35" y="397.70" width="27.25" height="5.55" fill="#80ff80"/><rect x="90.30" y="397.70" width="27.25" height="5.55" fill="#48ffb8"/><rect x="117.25" y="397.70" width="27.25" height="5.55" fill="#48ffb8"/><rect x="144.20" y="397.70" width="27.25" height="5.55" fill="#f4ff10"/><rect x="171.15" y="397.70" width="27.25" height="5.55" fill="#ff0c0c"/><rect x="198.10" y="397.70" width="27.25" height="5.55" fill="#ff5050"/><rect x="225.05" y="397.70" width="27.25" height="5.55" fill="#ff4444"/><rect x="252.00" y="397.70" width="27.25" height="5.55" fill="#ff4444"/><rect x="278.95" y="397.70" width="27.25" height="5.55" fill="#ff3838"/><rect x="305.90" y="397.70" width="27.25" height="5.55" fill="#ff3000"/><rect x="36.40" y="402.95" width="27.25" height="5.55" fill="#1890f0"/><rect x="63.35" y="402.95" width="27.25" height="5.55" fill="#1890f0"/><rect x="90.30" y="402.95" width="27.25" height="5.55" fill="#0010c8"/><rect x="117.25" y="402.95" width="27.25" height="5.55" fill="#1890f0"/><rect x="144.20" y="402.95" width="27.25" height="5.55" fill="#a4ff5c"/><rect x="171.15" y="402.95" width="27.25" height="5.55" fill="#ff6000"/><rect x="198.10" y="402.95" width="27.25" height="5.55" fill="#ff3838"/><rect x="225.05" y="402.95" width="27.25" height="5.55" fill="#ff3838"/><rect x="252.00" y="402.95" width="27.25" height="5.55" fill="#ff4444"/><rect x="278.95" y="402.95" width="27.25" height="5.55" fill="#ff3838"/><rect x="305.90" y="402.95" width="27.25" height="5.55" fill="#ff2c2c"/><rect x="36.40" y="408.20" width="27.25" height="5.55" fill="#000088"/><rect x="63.35" y="408.20" width="27.25" height="5.55" fill="#000088"/><rect x="90.30" y="408.20" width="27.25" height="5.55" fill="#0010c8"/><rect x="117.25" y="408.20" width="27.25" height="5.55" fill="#10e8ff"/><rect x="144.20" y="408.20" width="27.25" height="5.55" fill="#f4ff10"/><rect x="171.15" y="408.20" width="27.25" height="5.55" fill="#ff3000"/><rect x="198.10" y="408.20" width="27.25" height="5.55" fill="#ff3838"/><rect x="225.05" y="408.20" width="27.25" height="5.55" fill="#ff3838"/><rect x="252.00" y="408.20" width="27.25" height="5.55" fill="#ff1e1e"/><rect x="278.95" y="408.20" width="27.25" height="5.55" fill="#ff3838"/><rect x="305.90" y="408.20" width="27.25" height="5.55" fill="#ff2c2c"/><rect x="36.40" y="413.45" width="27.25" height="5.55" fill="#000088"/><rect x="63.35" y="413.45" width="27.25" height="5.55" fill="#000088"/><rect x="90.30" y="413.45" width="27.25" height="5.55" fill="#0010c8"/><rect x="117.25" y="413.45" width="27.25" height="5.55" fill="#10e8ff"/><rect x="144.20" y="413.45" width="27.25" height="5.55" fill="#f4ff10"/><rect x="171.15" y="413.45" width="27.25" height="5.55" fill="#ff2c2c"/><rect x="198.10" y="413.45" width="27.25" height="5.55" fill="#ff3838"/><rect x="225.05" y="413.45" width="27.25" height="5.55" fill="#ff1e1e"/><rect x="252.00" y="413.45" width="27.25" height="5.55" fill="#ff3000"/><rect x="278.95" y="413.45" width="27.25" height="5.55" fill="#ff3838"/><rect x="305.90" y="413.45" width="27.25" height="5.55" fill="#ff4444"/><rect x="36.40" y="418.70" width="27.25" height="5.55" fill="#000088"/><rect x="63.35" y="418.70" width="27.25" height="5.55" fill="#1890f0"/><rect x="90.30" y="418.70" width="27.25" height="5.55" fill="#80ff80"/><rect x="117.25" y="418.70" width="27.25" height="5.55" fill="#f4ff10"/><rect x="144.20" y="418.70" width="27.25" height="5.55" fill="#ffa000"/><rect x="171.15" y="418.70" width="27.25" height="5.55" fill="#ff0c0c"/><rect x="198.10" y="418.70" width="27.25" height="5.55" fill="#ff1e1e"/><rect x="225.05" y="418.70" width="27.25" height="5.55" fill="#ff3000"/><rect x="252.00" y="418.70" width="27.25" height="5.55" fill="#ff0c0c"/><rect x="278.95" y="418.70" width="27.25" height="5.55" fill="#ff4444"/><rect x="305.90" y="418.70" width="27.25" height="5.55" fill="#ff4444"/><rect x="36.40" y="423.95" width="27.25" height="5.55" fill="#000088"/><rect x="63.35" y="423.95" width="27.25" height="5.55" fill="#30c0f8"/><rect x="90.30" y="423.95" width="27.25" height="5.55" fill="#80ff80"/><rect x="117.25" y="423.95" width="27.25" height="5.55" fill="#b8ff48"/><rect x="144.20" y="423.95" width="27.25" height="5.55" fill="#ffd000"/><rect x="171.15" y="423.95" width="27.25" height="5.55" fill="#ff6000"/><rect x="198.10" y="423.95" width="27.25" height="5.55" fill="#ff2c2c"/><rect x="225.05" y="423.95" width="27.25" height="5.55" fill="#ffa000"/><rect x="252.00" y="423.95" width="27.25" height="5.55" fill="#ff4444"/><rect x="278.95" y="423.95" width="27.25" height="5.55" fill="#ff4444"/><rect x="305.90" y="423.95" width="27.25" height="5.55" fill="#ff1e1e"/><rect x="36.40" y="429.20" width="27.25" height="5.55" fill="#000088"/><rect x="63.35" y="429.20" width="27.25" height="5.55" fill="#0010c8"/><rect x="90.30" y="429.20" width="27.25" height="5.55" fill="#0010c8"/><rect x="117.25" y="429.20" width="27.25" height="5.55" fill="#b8ff48"/><rect x="144.20" y="429.20" width="27.25" height="5.55" fill="#f4ff10"/><rect x="171.15" y="429.20" width="27.25" height="5.55" fill="#ff6000"/><rect x="198.10" y="429.20" width="27.25" height="5.55" fill="#ff0c0c"/><rect x="225.05" y="429.20" width="27.25" height="5.55" fill="#ff3000"/><rect x="252.00" y="429.20" width="27.25" height="5.55" fill="#ff2c2c"/><rect x="278.95" y="429.20" width="27.25" height="5.55" fill="#ff1e1e"/><rect x="305.90" y="429.20" width="27.25" height="5.55" fill="#ff0c0c"/><rect x="36.40" y="434.45" width="27.25" height="5.55" fill="#000088"/><rect x="63.35" y="434.45" width="27.25" height="5.55" fill="#0010c8"/><rect x="90.30" y="434.45" width="27.25" height="5.55" fill="#1068e0"/><rect x="117.25" y="434.45" width="27.25" height="5.55" fill="#1890f0"/><rect x="144.20" y="434.45" width="27.25" height="5.55" fill="#1890f0"/><rect x="171.15" y="434.45" width="27.25" height="5.55" fill="#ffa000"/><rect x="198.10" y="434.45" width="27.25" height="5.55" fill="#ff2c2c"/><rect x="225.05" y="434.45" width="27.25" height="5.55" fill="#ff2c2c"/><rect x="252.00" y="434.45" width="27.25" height="5.55" fill="#ff2c2c"/><rect x="278.95" y="434.45" width="27.25" height="5.55" fill="#ff2c2c"/><rect x="305.90" y="434.45" width="27.25" height="5.55" fill="#ff3838"/><rect x="36.40" y="439.70" width="27.25" height="5.55" fill="#000088"/><rect x="63.35" y="439.70" width="27.25" height="5.55" fill="#0010c8"/><rect x="90.30" y="439.70" width="27.25" height="5.55" fill="#1068e0"/><rect x="117.25" y="439.70" width="27.25" height="5.55" fill="#0010c8"/><rect x="144.20" y="439.70" width="27.25" height="5.55" fill="#f4ff10"/><rect x="171.15" y="439.70" width="27.25" height="5.55" fill="#ffa000"/><rect x="198.10" y="439.70" width="27.25" height="5.55" fill="#ff1e1e"/><rect x="225.05" y="439.70" width="27.25" height="5.55" fill="#ff1e1e"/><rect x="252.00" y="439.70" width="27.25" height="5.55" fill="#ff2c2c"/><rect x="278.95" y="439.70" width="27.25" height="5.55" fill="#ff3838"/><rect x="305.90" y="439.70" width="27.25" height="5.55" fill="#ff4444"/><rect x="36.40" y="444.95" width="27.25" height="5.55" fill="#000088"/><rect x="63.35" y="444.95" width="27.25" height="5.55" fill="#0010c8"/><rect x="90.30" y="444.95" width="27.25" height="5.55" fill="#1890f0"/><rect x="117.25" y="444.95" width="27.25" height="5.55" fill="#80ff80"/><rect x="144.20" y="444.95" width="27.25" height="5.55" fill="#f4ff10"/><rect x="171.15" y="444.95" width="27.25" height="5.55" fill="#ffa000"/><rect x="198.10" y="444.95" width="27.25" height="5.55" fill="#ff1e1e"/><rect x="225.05" y="444.95" width="27.25" height="5.55" fill="#ff3838"/><rect x="252.00" y="444.95" width="27.25" height="5.55" fill="#ff4444"/><rect x="278.95" y="444.95" width="27.25" height="5.55" fill="#ff1e1e"/><rect x="305.90" y="444.95" width="27.25" height="5.55" fill="#ff4444"/><rect x="36.40" y="450.20" width="27.25" height="5.55" fill="#000088"/><rect x="63.35" y="450.20" width="27.25" height="5.55" fill="#1890f0"/><rect x="90.30" y="450.20" width="27.25" height="5.55" fill="#0010c8"/><rect x="117.25" y="450.20" width="27.25" height="5.55" fill="#80ff80"/><rect x="144.20" y="450.20" width="27.25" height="5.55" fill="#f4ff10"/><rect x="171.15" y="450.20" width="27.25" height="5.55" fill="#ff0c0c"/><rect x="198.10" y="450.20" width="27.25" height="5.55" fill="#ff3000"/><rect x="225.05" y="450.20" width="27.25" height="5.55" fill="#ff3000"/><rect x="252.00" y="450.20" width="27.25" height="5.55" fill="#ff3000"/><rect x="278.95" y="450.20" width="27.25" height="5.55" fill="#ff4444"/><rect x="305.90" y="450.20" width="27.25" height="5.55" fill="#ff5050"/><rect x="36.40" y="455.45" width="27.25" height="5.55" fill="#000088"/><rect x="63.35" y="455.45" width="27.25" height="5.55" fill="#000088"/><rect x="90.30" y="455.45" width="27.25" height="5.55" fill="#000088"/><rect x="117.25" y="455.45" width="27.25" height="5.55" fill="#0010c8"/><rect x="144.20" y="455.45" width="27.25" height="5.55" fill="#ff6000"/><rect x="171.15" y="455.45" width="27.25" height="5.55" fill="#ff2c2c"/><rect x="198.10" y="455.45" width="27.25" height="5.55" fill="#ff4444"/><rect x="225.05" y="455.45" width="27.25" height="5.55" fill="#ff0c0c"/><rect x="252.00" y="455.45" width="27.25" height="5.55" fill="#ff3838"/><rect x="278.95" y="455.45" width="27.25" height="5.55" fill="#ff3838"/><rect x="305.90" y="455.45" width="27.25" height="5.55" fill="#ff5050"/><rect x="36.40" y="460.70" width="27.25" height="5.55" fill="#0010c8"/><rect x="63.35" y="460.70" width="27.25" height="5.55" fill="#0010c8"/><rect x="90.30" y="460.70" width="27.25" height="5.55" fill="#000088"/><rect x="117.25" y="460.70" width="27.25" height="5.55" fill="#1068e0"/><rect x="144.20" y="460.70" width="27.25" height="5.55" fill="#ffd000"/><rect x="171.15" y="460.70" width="27.25" height="5.55" fill="#a4ff5c"/><rect x="198.10" y="460.70" width="27.25" height="5.55" fill="#ff2c2c"/><rect x="225.05" y="460.70" width="27.25" height="5.55" fill="#ff3838"/><rect x="252.00" y="460.70" width="27.25" height="5.55" fill="#ff1e1e"/><rect x="278.95" y="460.70" width="27.25" height="5.55" fill="#ff3838"/><rect x="305.90" y="460.70" width="27.25" height="5.55" fill="#ff3838"/><rect x="36.40" y="465.95" width="27.25" height="5.55" fill="#0010c8"/><rect x="63.35" y="465.95" width="27.25" height="5.55" fill="#0010c8"/><rect x="90.30" y="465.95" width="27.25" height="5.55" fill="#48ffb8"/><rect x="117.25" y="465.95" width="27.25" height="5.55" fill="#f4ff10"/><rect x="144.20" y="465.95" width="27.25" height="5.55" fill="#ffd000"/><rect x="171.15" y="465.95" width="27.25" height="5.55" fill="#b8ff48"/><rect x="198.10" y="465.95" width="27.25" height="5.55" fill="#ff3000"/><rect x="225.05" y="465.95" width="27.25" height="5.55" fill="#ff4444"/><rect x="252.00" y="465.95" width="27.25" height="5.55" fill="#ff4444"/><rect x="278.95" y="465.95" width="27.25" height="5.55" fill="#ff3838"/><rect x="305.90" y="465.95" width="27.25" height="5.55" fill="#ff3838"/><rect x="36.40" y="471.20" width="27.25" height="5.55" fill="#000088"/><rect x="63.35" y="471.20" width="27.25" height="5.55" fill="#000088"/><rect x="90.30" y="471.20" width="27.25" height="5.55" fill="#80ff80"/><rect x="117.25" y="471.20" width="27.25" height="5.55" fill="#b8ff48"/><rect x="144.20" y="471.20" width="27.25" height="5.55" fill="#ff0c0c"/><rect x="171.15" y="471.20" width="27.25" height="5.55" fill="#ff1e1e"/><rect x="198.10" y="471.20" width="27.25" height="5.55" fill="#ff4444"/><rect x="225.05" y="471.20" width="27.25" height="5.55" fill="#ff4444"/><rect x="252.00" y="471.20" width="27.25" height="5.55" fill="#ff4444"/><rect x="278.95" y="471.20" width="27.25" height="5.55" fill="#ff1e1e"/><rect x="305.90" y="471.20" width="27.25" height="5.55" fill="#ff1e1e"/><rect x="36.40" y="476.45" width="27.25" height="5.55" fill="#000088"/><rect x="63.35" y="476.45" width="27.25" height="5.55" fill="#000088"/><rect x="90.30" y="476.45" width="27.25" height="5.55" fill="#80ff80"/><rect x="117.25" y="476.45" width="27.25" height="5.55" fill="#000088"/><rect x="144.20" y="476.45" width="27.25" height="5.55" fill="#ffa000"/><rect x="171.15" y="476.45" width="27.25" height="5.55" fill="#ff6000"/><rect x="198.10" y="476.45" width="27.25" height="5.55" fill="#ff0c0c"/><rect x="225.05" y="476.45" width="27.25" height="5.55" fill="#ff1e1e"/><rect x="252.00" y="476.45" width="27.25" height="5.55" fill="#ff2c2c"/><rect x="278.95" y="476.45" width="27.25" height="5.55" fill="#ff0c0c"/><rect x="305.90" y="476.45" width="27.25" height="5.55" fill="#ff6000"/><rect x="36.40" y="481.70" width="27.25" height="5.55" fill="#000088"/><rect x="63.35" y="481.70" width="27.25" height="5.55" fill="#000088"/><rect x="90.30" y="481.70" width="27.25" height="5.55" fill="#000088"/><rect x="117.25" y="481.70" width="27.25" height="5.55" fill="#f4ff10"/><rect x="144.20" y="481.70" width="27.25" height="5.55" fill="#ffa000"/><rect x="171.15" y="481.70" width="27.25" height="5.55" fill="#f4ff10"/><rect x="198.10" y="481.70" width="27.25" height="5.55" fill="#ff1e1e"/><rect x="225.05" y="481.70" width="27.25" height="5.55" fill="#ff0c0c"/><rect x="252.00" y="481.70" width="27.25" height="5.55" fill="#ff2c2c"/><rect x="278.95" y="481.70" width="27.25" height="5.55" fill="#ff2c2c"/><rect x="305.90" y="481.70" width="27.25" height="5.55" fill="#ff2c2c"/><rect x="36.40" y="486.95" width="27.25" height="5.55" fill="#000088"/><rect x="63.35" y="486.95" width="27.25" height="5.55" fill="#000088"/><rect x="90.30" y="486.95" width="27.25" height="5.55" fill="#000088"/><rect x="117.25" y="486.95" width="27.25" height="5.55" fill="#000088"/><rect x="144.20" y="486.95" width="27.25" height="5.55" fill="#10e8ff"/><rect x="171.15" y="486.95" width="27.25" height="5.55" fill="#ff3838"/><rect x="198.10" y="486.95" width="27.25" height="5.55" fill="#ffa000"/><rect x="225.05" y="486.95" width="27.25" height="5.55" fill="#ff4444"/><rect x="252.00" y="486.95" width="27.25" height="5.55" fill="#ff1e1e"/><rect x="278.95" y="486.95" width="27.25" height="5.55" fill="#ff2c2c"/><rect x="305.90" y="486.95" width="27.25" height="5.55" fill="#ff2c2c"/><rect x="331.9" y="0.8" width="20.200000000000045" height="210.89999999999998" fill="url(#cb)"/><rect x="709.9" y="0.8" width="20.200000000000045" height="210.89999999999998" fill="url(#cb)"/><rect x="331.9" y="281.2" width="20.200000000000045" height="210.60000000000002" fill="url(#cb)"/></g><line x1="36.90" y1="0.00" x2="36.90" y2="212.50" stroke="#000" stroke-width="1.8"/><line x1="331.40" y1="0.00" x2="331.40" y2="212.50" stroke="#000" stroke-width="1.2"/><line x1="36.00" y1="0.80" x2="332.00" y2="0.80" stroke="#000" stroke-width="1.6"/><line x1="36.00" y1="211.70" x2="332.00" y2="211.70" stroke="#000" stroke-width="1.6"/><line x1="331.90" y1="0.00" x2="331.90" y2="212.50" stroke="#000" stroke-width="1.2"/><line x1="352.10" y1="0.00" x2="352.10" y2="212.50" stroke="#000" stroke-width="1.1"/><line x1="331.30" y1="0.80" x2="352.65" y2="0.80" stroke="#000" stroke-width="1.6"/><line x1="331.30" y1="211.70" x2="352.65" y2="211.70" stroke="#000" stroke-width="1.6"/><line x1="331.90" y1="37.00" x2="334.90" y2="37.00" stroke="#000" stroke-width="1.1"/><line x1="349.10" y1="37.00" x2="352.10" y2="37.00" stroke="#000" stroke-width="1.1"/><line x1="331.90" y1="49.50" x2="334.90" y2="49.50" stroke="#000" stroke-width="1.1"/><line x1="349.10" y1="49.50" x2="352.10" y2="49.50" stroke="#000" stroke-width="1.1"/><line x1="331.90" y1="62.00" x2="334.90" y2="62.00" stroke="#000" stroke-width="1.1"/><line x1="349.10" y1="62.00" x2="352.10" y2="62.00" stroke="#000" stroke-width="1.1"/><line x1="331.90" y1="74.50" x2="334.90" y2="74.50" stroke="#000" stroke-width="1.1"/><line x1="349.10" y1="74.50" x2="352.10" y2="74.50" stroke="#000" stroke-width="1.1"/><line x1="331.90" y1="87.00" x2="334.90" y2="87.00" stroke="#000" stroke-width="1.1"/><line x1="349.10" y1="87.00" x2="352.10" y2="87.00" stroke="#000" stroke-width="1.1"/><line x1="331.90" y1="99.50" x2="334.90" y2="99.50" stroke="#000" stroke-width="1.1"/><line x1="349.10" y1="99.50" x2="352.10" y2="99.50" stroke="#000" stroke-width="1.1"/><line x1="331.90" y1="112.00" x2="334.90" y2="112.00" stroke="#000" stroke-width="1.1"/><line x1="349.10" y1="112.00" x2="352.10" y2="112.00" stroke="#000" stroke-width="1.1"/><line x1="331.90" y1="124.50" x2="334.90" y2="124.50" stroke="#000" stroke-width="1.1"/><line x1="349.10" y1="124.50" x2="352.10" y2="124.50" stroke="#000" stroke-width="1.1"/><line x1="331.90" y1="137.00" x2="334.90" y2="137.00" stroke="#000" stroke-width="1.1"/><line x1="349.10" y1="137.00" x2="352.10" y2="137.00" stroke="#000" stroke-width="1.1"/><line x1="331.90" y1="149.50" x2="334.90" y2="149.50" stroke="#000" stroke-width="1.1"/><line x1="349.10" y1="149.50" x2="352.10" y2="149.50" stroke="#000" stroke-width="1.1"/><line x1="331.90" y1="162.00" x2="334.90" y2="162.00" stroke="#000" stroke-width="1.1"/><line x1="349.10" y1="162.00" x2="352.10" y2="162.00" stroke="#000" stroke-width="1.1"/><line x1="331.90" y1="174.50" x2="334.90" y2="174.50" stroke="#000" stroke-width="1.1"/><line x1="349.10" y1="174.50" x2="352.10" y2="174.50" stroke="#000" stroke-width="1.1"/><line x1="331.90" y1="187.00" x2="334.90" y2="187.00" stroke="#000" stroke-width="1.1"/><line x1="349.10" y1="187.00" x2="352.10" y2="187.00" stroke="#000" stroke-width="1.1"/><line x1="331.90" y1="199.50" x2="334.90" y2="199.50" stroke="#000" stroke-width="1.1"/><line x1="349.10" y1="199.50" x2="352.10" y2="199.50" stroke="#000" stroke-width="1.1"/><line x1="414.90" y1="0.00" x2="414.90" y2="212.50" stroke="#000" stroke-width="1.8"/><line x1="709.40" y1="0.00" x2="709.40" y2="212.50" stroke="#000" stroke-width="1.2"/><line x1="414.00" y1="0.80" x2="710.00" y2="0.80" stroke="#000" stroke-width="1.6"/><line x1="414.00" y1="211.70" x2="710.00" y2="211.70" stroke="#000" stroke-width="1.6"/><line x1="709.90" y1="0.00" x2="709.90" y2="212.50" stroke="#000" stroke-width="1.2"/><line x1="730.10" y1="0.00" x2="730.10" y2="212.50" stroke="#000" stroke-width="1.1"/><line x1="709.30" y1="0.80" x2="730.65" y2="0.80" stroke="#000" stroke-width="1.6"/><line x1="709.30" y1="211.70" x2="730.65" y2="211.70" stroke="#000" stroke-width="1.6"/><line x1="709.90" y1="37.00" x2="712.90" y2="37.00" stroke="#000" stroke-width="1.1"/><line x1="727.10" y1="37.00" x2="730.10" y2="37.00" stroke="#000" stroke-width="1.1"/><line x1="709.90" y1="49.50" x2="712.90" y2="49.50" stroke="#000" stroke-width="1.1"/><line x1="727.10" y1="49.50" x2="730.10" y2="49.50" stroke="#000" stroke-width="1.1"/><line x1="709.90" y1="62.00" x2="712.90" y2="62.00" stroke="#000" stroke-width="1.1"/><line x1="727.10" y1="62.00" x2="730.10" y2="62.00" stroke="#000" stroke-width="1.1"/><line x1="709.90" y1="74.50" x2="712.90" y2="74.50" stroke="#000" stroke-width="1.1"/><line x1="727.10" y1="74.50" x2="730.10" y2="74.50" stroke="#000" stroke-width="1.1"/><line x1="709.90" y1="87.00" x2="712.90" y2="87.00" stroke="#000" stroke-width="1.1"/><line x1="727.10" y1="87.00" x2="730.10" y2="87.00" stroke="#000" stroke-width="1.1"/><line x1="709.90" y1="99.50" x2="712.90" y2="99.50" stroke="#000" stroke-width="1.1"/><line x1="727.10" y1="99.50" x2="730.10" y2="99.50" stroke="#000" stroke-width="1.1"/><line x1="709.90" y1="112.00" x2="712.90" y2="112.00" stroke="#000" stroke-width="1.1"/><line x1="727.10" y1="112.00" x2="730.10" y2="112.00" stroke="#000" stroke-width="1.1"/><line x1="709.90" y1="124.50" x2="712.90" y2="124.50" stroke="#000" stroke-width="1.1"/><line x1="727.10" y1="124.50" x2="730.10" y2="124.50" stroke="#000" stroke-width="1.1"/><line x1="709.90" y1="137.00" x2="712.90" y2="137.00" stroke="#000" stroke-width="1.1"/><line x1="727.10" y1="137.00" x2="730.10" y2="137.00" stroke="#000" stroke-width="1.1"/><line x1="709.90" y1="149.50" x2="712.90" y2="149.50" stroke="#000" stroke-width="1.1"/><line x1="727.10" y1="149.50" x2="730.10" y2="149.50" stroke="#000" stroke-width="1.1"/><line x1="709.90" y1="162.00" x2="712.90" y2="162.00" stroke="#000" stroke-width="1.1"/><line x1="727.10" y1="162.00" x2="730.10" y2="162.00" stroke="#000" stroke-width="1.1"/><line x1="709.90" y1="174.50" x2="712.90" y2="174.50" stroke="#000" stroke-width="1.1"/><line x1="727.10" y1="174.50" x2="730.10" y2="174.50" stroke="#000" stroke-width="1.1"/><line x1="709.90" y1="187.00" x2="712.90" y2="187.00" stroke="#000" stroke-width="1.1"/><line x1="727.10" y1="187.00" x2="730.10" y2="187.00" stroke="#000" stroke-width="1.1"/><line x1="709.90" y1="199.50" x2="712.90" y2="199.50" stroke="#000" stroke-width="1.1"/><line x1="727.10" y1="199.50" x2="730.10" y2="199.50" stroke="#000" stroke-width="1.1"/><line x1="36.40" y1="280.60" x2="36.40" y2="492.60" stroke="#000" stroke-width="1.8"/><line x1="331.40" y1="280.60" x2="331.40" y2="492.60" stroke="#000" stroke-width="1.2"/><line x1="35.50" y1="281.20" x2="332.00" y2="281.20" stroke="#000" stroke-width="1.2"/><line x1="35.50" y1="491.80" x2="332.00" y2="491.80" stroke="#000" stroke-width="1.6"/><line x1="331.90" y1="280.60" x2="331.90" y2="492.60" stroke="#000" stroke-width="1.2"/><line x1="352.10" y1="280.60" x2="352.10" y2="492.60" stroke="#000" stroke-width="1.1"/><line x1="331.30" y1="281.20" x2="352.65" y2="281.20" stroke="#000" stroke-width="1.2"/><line x1="331.30" y1="491.80" x2="352.65" y2="491.80" stroke="#000" stroke-width="1.6"/><line x1="331.90" y1="318.00" x2="334.90" y2="318.00" stroke="#000" stroke-width="1.1"/><line x1="349.10" y1="318.00" x2="352.10" y2="318.00" stroke="#000" stroke-width="1.1"/><line x1="331.90" y1="330.50" x2="334.90" y2="330.50" stroke="#000" stroke-width="1.1"/><line x1="349.10" y1="330.50" x2="352.10" y2="330.50" stroke="#000" stroke-width="1.1"/><line x1="331.90" y1="343.00" x2="334.90" y2="343.00" stroke="#000" stroke-width="1.1"/><line x1="349.10" y1="343.00" x2="352.10" y2="343.00" stroke="#000" stroke-width="1.1"/><line x1="331.90" y1="355.50" x2="334.90" y2="355.50" stroke="#000" stroke-width="1.1"/><line x1="349.10" y1="355.50" x2="352.10" y2="355.50" stroke="#000" stroke-width="1.1"/><line x1="331.90" y1="368.00" x2="334.90" y2="368.00" stroke="#000" stroke-width="1.1"/><line x1="349.10" y1="368.00" x2="352.10" y2="368.00" stroke="#000" stroke-width="1.1"/><line x1="331.90" y1="380.50" x2="334.90" y2="380.50" stroke="#000" stroke-width="1.1"/><line x1="349.10" y1="380.50" x2="352.10" y2="380.50" stroke="#000" stroke-width="1.1"/><line x1="331.90" y1="393.00" x2="334.90" y2="393.00" stroke="#000" stroke-width="1.1"/><line x1="349.10" y1="393.00" x2="352.10" y2="393.00" stroke="#000" stroke-width="1.1"/><line x1="331.90" y1="405.50" x2="334.90" y2="405.50" stroke="#000" stroke-width="1.1"/><line x1="349.10" y1="405.50" x2="352.10" y2="405.50" stroke="#000" stroke-width="1.1"/><line x1="331.90" y1="418.00" x2="334.90" y2="418.00" stroke="#000" stroke-width="1.1"/><line x1="349.10" y1="418.00" x2="352.10" y2="418.00" stroke="#000" stroke-width="1.1"/><line x1="331.90" y1="430.50" x2="334.90" y2="430.50" stroke="#000" stroke-width="1.1"/><line x1="349.10" y1="430.50" x2="352.10" y2="430.50" stroke="#000" stroke-width="1.1"/><line x1="331.90" y1="443.00" x2="334.90" y2="443.00" stroke="#000" stroke-width="1.1"/><line x1="349.10" y1="443.00" x2="352.10" y2="443.00" stroke="#000" stroke-width="1.1"/><line x1="331.90" y1="455.50" x2="334.90" y2="455.50" stroke="#000" stroke-width="1.1"/><line x1="349.10" y1="455.50" x2="352.10" y2="455.50" stroke="#000" stroke-width="1.1"/><line x1="331.90" y1="468.00" x2="334.90" y2="468.00" stroke="#000" stroke-width="1.1"/><line x1="349.10" y1="468.00" x2="352.10" y2="468.00" stroke="#000" stroke-width="1.1"/><line x1="331.90" y1="480.50" x2="334.90" y2="480.50" stroke="#000" stroke-width="1.1"/><line x1="349.10" y1="480.50" x2="352.10" y2="480.50" stroke="#000" stroke-width="1.1"/><line x1="75.41" y1="0.80" x2="75.41" y2="3.80" stroke="#000" stroke-width="1.3"/><line x1="75.41" y1="208.70" x2="75.41" y2="211.70" stroke="#000" stroke-width="1.3"/><line x1="100.39" y1="0.80" x2="100.39" y2="3.80" stroke="#000" stroke-width="1.3"/><line x1="100.39" y1="208.70" x2="100.39" y2="211.70" stroke="#000" stroke-width="1.3"/><line x1="120.81" y1="0.80" x2="120.81" y2="3.80" stroke="#000" stroke-width="1.3"/><line x1="120.81" y1="208.70" x2="120.81" y2="211.70" stroke="#000" stroke-width="1.3"/><line x1="138.07" y1="0.80" x2="138.07" y2="3.80" stroke="#000" stroke-width="1.3"/><line x1="138.07" y1="208.70" x2="138.07" y2="211.70" stroke="#000" stroke-width="1.3"/><line x1="153.02" y1="0.80" x2="153.02" y2="3.80" stroke="#000" stroke-width="1.3"/><line x1="153.02" y1="208.70" x2="153.02" y2="211.70" stroke="#000" stroke-width="1.3"/><line x1="166.20" y1="0.80" x2="166.20" y2="3.80" stroke="#000" stroke-width="1.3"/><line x1="166.20" y1="208.70" x2="166.20" y2="211.70" stroke="#000" stroke-width="1.3"/><line x1="178.00" y1="0.80" x2="178.00" y2="5.80" stroke="#000" stroke-width="1.3"/><line x1="178.00" y1="206.70" x2="178.00" y2="211.70" stroke="#000" stroke-width="1.3"/><line x1="255.61" y1="0.80" x2="255.61" y2="3.80" stroke="#000" stroke-width="1.3"/><line x1="255.61" y1="208.70" x2="255.61" y2="211.70" stroke="#000" stroke-width="1.3"/><line x1="301.00" y1="0.80" x2="301.00" y2="3.80" stroke="#000" stroke-width="1.3"/><line x1="301.00" y1="208.70" x2="301.00" y2="211.70" stroke="#000" stroke-width="1.3"/><line x1="453.41" y1="0.80" x2="453.41" y2="3.80" stroke="#000" stroke-width="1.3"/><line x1="453.41" y1="208.70" x2="453.41" y2="211.70" stroke="#000" stroke-width="1.3"/><line x1="478.39" y1="0.80" x2="478.39" y2="3.80" stroke="#000" stroke-width="1.3"/><line x1="478.39" y1="208.70" x2="478.39" y2="211.70" stroke="#000" stroke-width="1.3"/><line x1="498.81" y1="0.80" x2="498.81" y2="3.80" stroke="#000" stroke-width="1.3"/><line x1="498.81" y1="208.70" x2="498.81" y2="211.70" stroke="#000" stroke-width="1.3"/><line x1="516.07" y1="0.80" x2="516.07" y2="3.80" stroke="#000" stroke-width="1.3"/><line x1="516.07" y1="208.70" x2="516.07" y2="211.70" stroke="#000" stroke-width="1.3"/><line x1="531.02" y1="0.80" x2="531.02" y2="3.80" stroke="#000" stroke-width="1.3"/><line x1="531.02" y1="208.70" x2="531.02" y2="211.70" stroke="#000" stroke-width="1.3"/><line x1="544.20" y1="0.80" x2="544.20" y2="3.80" stroke="#000" stroke-width="1.3"/><line x1="544.20" y1="208.70" x2="544.20" y2="211.70" stroke="#000" stroke-width="1.3"/><line x1="556.00" y1="0.80" x2="556.00" y2="5.80" stroke="#000" stroke-width="1.3"/><line x1="556.00" y1="206.70" x2="556.00" y2="211.70" stroke="#000" stroke-width="1.3"/><line x1="633.61" y1="0.80" x2="633.61" y2="3.80" stroke="#000" stroke-width="1.3"/><line x1="633.61" y1="208.70" x2="633.61" y2="211.70" stroke="#000" stroke-width="1.3"/><line x1="679.00" y1="0.80" x2="679.00" y2="3.80" stroke="#000" stroke-width="1.3"/><line x1="679.00" y1="208.70" x2="679.00" y2="211.70" stroke="#000" stroke-width="1.3"/><line x1="36.90" y1="211.01" x2="39.90" y2="211.01" stroke="#000" stroke-width="1.5"/><line x1="328.40" y1="211.01" x2="331.40" y2="211.01" stroke="#000" stroke-width="1.5"/><line x1="36.90" y1="208.20" x2="39.90" y2="208.20" stroke="#000" stroke-width="1.5"/><line x1="328.40" y1="208.20" x2="331.40" y2="208.20" stroke="#000" stroke-width="1.5"/><line x1="36.90" y1="205.72" x2="39.90" y2="205.72" stroke="#000" stroke-width="1.5"/><line x1="328.40" y1="205.72" x2="331.40" y2="205.72" stroke="#000" stroke-width="1.5"/><line x1="36.90" y1="203.50" x2="41.90" y2="203.50" stroke="#000" stroke-width="1.5"/><line x1="326.40" y1="203.50" x2="331.40" y2="203.50" stroke="#000" stroke-width="1.5"/><line x1="36.90" y1="188.90" x2="39.90" y2="188.90" stroke="#000" stroke-width="1.5"/><line x1="328.40" y1="188.90" x2="331.40" y2="188.90" stroke="#000" stroke-width="1.5"/><line x1="36.90" y1="180.36" x2="39.90" y2="180.36" stroke="#000" stroke-width="1.5"/><line x1="328.40" y1="180.36" x2="331.40" y2="180.36" stroke="#000" stroke-width="1.5"/><line x1="36.90" y1="174.30" x2="39.90" y2="174.30" stroke="#000" stroke-width="1.5"/><line x1="328.40" y1="174.30" x2="331.40" y2="174.30" stroke="#000" stroke-width="1.5"/><line x1="36.90" y1="169.60" x2="39.90" y2="169.60" stroke="#000" stroke-width="1.5"/><line x1="328.40" y1="169.60" x2="331.40" y2="169.60" stroke="#000" stroke-width="1.5"/><line x1="36.90" y1="165.76" x2="39.90" y2="165.76" stroke="#000" stroke-width="1.5"/><line x1="328.40" y1="165.76" x2="331.40" y2="165.76" stroke="#000" stroke-width="1.5"/><line x1="36.90" y1="162.51" x2="39.90" y2="162.51" stroke="#000" stroke-width="1.5"/><line x1="328.40" y1="162.51" x2="331.40" y2="162.51" stroke="#000" stroke-width="1.5"/><line x1="36.90" y1="159.70" x2="39.90" y2="159.70" stroke="#000" stroke-width="1.5"/><line x1="328.40" y1="159.70" x2="331.40" y2="159.70" stroke="#000" stroke-width="1.5"/><line x1="36.90" y1="157.22" x2="39.90" y2="157.22" stroke="#000" stroke-width="1.5"/><line x1="328.40" y1="157.22" x2="331.40" y2="157.22" stroke="#000" stroke-width="1.5"/><line x1="36.90" y1="155.00" x2="41.90" y2="155.00" stroke="#000" stroke-width="1.5"/><line x1="326.40" y1="155.00" x2="331.40" y2="155.00" stroke="#000" stroke-width="1.5"/><line x1="36.90" y1="140.40" x2="39.90" y2="140.40" stroke="#000" stroke-width="1.5"/><line x1="328.40" y1="140.40" x2="331.40" y2="140.40" stroke="#000" stroke-width="1.5"/><line x1="36.90" y1="131.86" x2="39.90" y2="131.86" stroke="#000" stroke-width="1.5"/><line x1="328.40" y1="131.86" x2="331.40" y2="131.86" stroke="#000" stroke-width="1.5"/><line x1="36.90" y1="125.80" x2="39.90" y2="125.80" stroke="#000" stroke-width="1.5"/><line x1="328.40" y1="125.80" x2="331.40" y2="125.80" stroke="#000" stroke-width="1.5"/><line x1="36.90" y1="121.10" x2="39.90" y2="121.10" stroke="#000" stroke-width="1.5"/><line x1="328.40" y1="121.10" x2="331.40" y2="121.10" stroke="#000" stroke-width="1.5"/><line x1="36.90" y1="117.26" x2="39.90" y2="117.26" stroke="#000" stroke-width="1.5"/><line x1="328.40" y1="117.26" x2="331.40" y2="117.26" stroke="#000" stroke-width="1.5"/><line x1="36.90" y1="114.01" x2="39.90" y2="114.01" stroke="#000" stroke-width="1.5"/><line x1="328.40" y1="114.01" x2="331.40" y2="114.01" stroke="#000" stroke-width="1.5"/><line x1="36.90" y1="111.20" x2="39.90" y2="111.20" stroke="#000" stroke-width="1.5"/><line x1="328.40" y1="111.20" x2="331.40" y2="111.20" stroke="#000" stroke-width="1.5"/><line x1="36.90" y1="108.72" x2="39.90" y2="108.72" stroke="#000" stroke-width="1.5"/><line x1="328.40" y1="108.72" x2="331.40" y2="108.72" stroke="#000" stroke-width="1.5"/><line x1="36.90" y1="106.50" x2="41.90" y2="106.50" stroke="#000" stroke-width="1.5"/><line x1="326.40" y1="106.50" x2="331.40" y2="106.50" stroke="#000" stroke-width="1.5"/><line x1="36.90" y1="91.90" x2="39.90" y2="91.90" stroke="#000" stroke-width="1.5"/><line x1="328.40" y1="91.90" x2="331.40" y2="91.90" stroke="#000" stroke-width="1.5"/><line x1="36.90" y1="83.36" x2="39.90" y2="83.36" stroke="#000" stroke-width="1.5"/><line x1="328.40" y1="83.36" x2="331.40" y2="83.36" stroke="#000" stroke-width="1.5"/><line x1="36.90" y1="77.30" x2="39.90" y2="77.30" stroke="#000" stroke-width="1.5"/><line x1="328.40" y1="77.30" x2="331.40" y2="77.30" stroke="#000" stroke-width="1.5"/><line x1="36.90" y1="72.60" x2="39.90" y2="72.60" stroke="#000" stroke-width="1.5"/><line x1="328.40" y1="72.60" x2="331.40" y2="72.60" stroke="#000" stroke-width="1.5"/><line x1="36.90" y1="68.76" x2="39.90" y2="68.76" stroke="#000" stroke-width="1.5"/><line x1="328.40" y1="68.76" x2="331.40" y2="68.76" stroke="#000" stroke-width="1.5"/><line x1="36.90" y1="65.51" x2="39.90" y2="65.51" stroke="#000" stroke-width="1.5"/><line x1="328.40" y1="65.51" x2="331.40" y2="65.51" stroke="#000" stroke-width="1.5"/><line x1="36.90" y1="62.70" x2="39.90" y2="62.70" stroke="#000" stroke-width="1.5"/><line x1="328.40" y1="62.70" x2="331.40" y2="62.70" stroke="#000" stroke-width="1.5"/><line x1="36.90" y1="60.22" x2="39.90" y2="60.22" stroke="#000" stroke-width="1.5"/><line x1="328.40" y1="60.22" x2="331.40" y2="60.22" stroke="#000" stroke-width="1.5"/><line x1="36.90" y1="58.00" x2="41.90" y2="58.00" stroke="#000" stroke-width="1.5"/><line x1="326.40" y1="58.00" x2="331.40" y2="58.00" stroke="#000" stroke-width="1.5"/><line x1="36.90" y1="43.40" x2="39.90" y2="43.40" stroke="#000" stroke-width="1.5"/><line x1="328.40" y1="43.40" x2="331.40" y2="43.40" stroke="#000" stroke-width="1.5"/><line x1="36.90" y1="34.86" x2="39.90" y2="34.86" stroke="#000" stroke-width="1.5"/><line x1="328.40" y1="34.86" x2="331.40" y2="34.86" stroke="#000" stroke-width="1.5"/><line x1="36.90" y1="28.80" x2="39.90" y2="28.80" stroke="#000" stroke-width="1.5"/><line x1="328.40" y1="28.80" x2="331.40" y2="28.80" stroke="#000" stroke-width="1.5"/><line x1="36.90" y1="24.10" x2="39.90" y2="24.10" stroke="#000" stroke-width="1.5"/><line x1="328.40" y1="24.10" x2="331.40" y2="24.10" stroke="#000" stroke-width="1.5"/><line x1="36.90" y1="20.26" x2="39.90" y2="20.26" stroke="#000" stroke-width="1.5"/><line x1="328.40" y1="20.26" x2="331.40" y2="20.26" stroke="#000" stroke-width="1.5"/><line x1="36.90" y1="17.01" x2="39.90" y2="17.01" stroke="#000" stroke-width="1.5"/><line x1="328.40" y1="17.01" x2="331.40" y2="17.01" stroke="#000" stroke-width="1.5"/><line x1="36.90" y1="14.20" x2="39.90" y2="14.20" stroke="#000" stroke-width="1.5"/><line x1="328.40" y1="14.20" x2="331.40" y2="14.20" stroke="#000" stroke-width="1.5"/><line x1="36.90" y1="11.72" x2="39.90" y2="11.72" stroke="#000" stroke-width="1.5"/><line x1="328.40" y1="11.72" x2="331.40" y2="11.72" stroke="#000" stroke-width="1.5"/><line x1="36.90" y1="9.50" x2="41.90" y2="9.50" stroke="#000" stroke-width="1.5"/><line x1="326.40" y1="9.50" x2="331.40" y2="9.50" stroke="#000" stroke-width="1.5"/><line x1="414.90" y1="209.60" x2="419.90" y2="209.60" stroke="#000" stroke-width="1.5"/><line x1="704.40" y1="209.60" x2="709.40" y2="209.60" stroke="#000" stroke-width="1.5"/><line x1="36.40" y1="489.90" x2="41.40" y2="489.90" stroke="#000" stroke-width="1.5"/><line x1="326.40" y1="489.90" x2="331.40" y2="489.90" stroke="#000" stroke-width="1.5"/><line x1="414.90" y1="175.92" x2="417.90" y2="175.92" stroke="#000" stroke-width="1.5"/><line x1="706.40" y1="175.92" x2="709.40" y2="175.92" stroke="#000" stroke-width="1.5"/><line x1="36.40" y1="456.22" x2="39.40" y2="456.22" stroke="#000" stroke-width="1.5"/><line x1="328.40" y1="456.22" x2="331.40" y2="456.22" stroke="#000" stroke-width="1.5"/><line x1="414.90" y1="142.24" x2="419.90" y2="142.24" stroke="#000" stroke-width="1.5"/><line x1="704.40" y1="142.24" x2="709.40" y2="142.24" stroke="#000" stroke-width="1.5"/><line x1="36.40" y1="422.54" x2="41.40" y2="422.54" stroke="#000" stroke-width="1.5"/><line x1="326.40" y1="422.54" x2="331.40" y2="422.54" stroke="#000" stroke-width="1.5"/><line x1="414.90" y1="108.56" x2="417.90" y2="108.56" stroke="#000" stroke-width="1.5"/><line x1="706.40" y1="108.56" x2="709.40" y2="108.56" stroke="#000" stroke-width="1.5"/><line x1="36.40" y1="388.86" x2="39.40" y2="388.86" stroke="#000" stroke-width="1.5"/><line x1="328.40" y1="388.86" x2="331.40" y2="388.86" stroke="#000" stroke-width="1.5"/><line x1="414.90" y1="74.88" x2="419.90" y2="74.88" stroke="#000" stroke-width="1.5"/><line x1="704.40" y1="74.88" x2="709.40" y2="74.88" stroke="#000" stroke-width="1.5"/><line x1="36.40" y1="355.18" x2="41.40" y2="355.18" stroke="#000" stroke-width="1.5"/><line x1="326.40" y1="355.18" x2="331.40" y2="355.18" stroke="#000" stroke-width="1.5"/><line x1="414.90" y1="41.20" x2="417.90" y2="41.20" stroke="#000" stroke-width="1.5"/><line x1="706.40" y1="41.20" x2="709.40" y2="41.20" stroke="#000" stroke-width="1.5"/><line x1="36.40" y1="321.50" x2="39.40" y2="321.50" stroke="#000" stroke-width="1.5"/><line x1="328.40" y1="321.50" x2="331.40" y2="321.50" stroke="#000" stroke-width="1.5"/><line x1="414.90" y1="7.52" x2="419.90" y2="7.52" stroke="#000" stroke-width="1.5"/><line x1="704.40" y1="7.52" x2="709.40" y2="7.52" stroke="#000" stroke-width="1.5"/><line x1="36.40" y1="287.82" x2="41.40" y2="287.82" stroke="#000" stroke-width="1.5"/><line x1="326.40" y1="287.82" x2="331.40" y2="287.82" stroke="#000" stroke-width="1.5"/><line x1="40.62" y1="281.20" x2="40.62" y2="284.20" stroke="#000" stroke-width="1.3"/><line x1="40.62" y1="488.80" x2="40.62" y2="491.80" stroke="#000" stroke-width="1.3"/><line x1="44.51" y1="281.20" x2="44.51" y2="284.20" stroke="#000" stroke-width="1.3"/><line x1="44.51" y1="488.80" x2="44.51" y2="491.80" stroke="#000" stroke-width="1.3"/><line x1="47.93" y1="281.20" x2="47.93" y2="284.20" stroke="#000" stroke-width="1.3"/><line x1="47.93" y1="488.80" x2="47.93" y2="491.80" stroke="#000" stroke-width="1.3"/><line x1="51.00" y1="281.20" x2="51.00" y2="286.20" stroke="#000" stroke-width="1.3"/><line x1="51.00" y1="486.80" x2="51.00" y2="491.80" stroke="#000" stroke-width="1.3"/><line x1="71.17" y1="281.20" x2="71.17" y2="284.20" stroke="#000" stroke-width="1.3"/><line x1="71.17" y1="488.80" x2="71.17" y2="491.80" stroke="#000" stroke-width="1.3"/><line x1="82.97" y1="281.20" x2="82.97" y2="284.20" stroke="#000" stroke-width="1.3"/><line x1="82.97" y1="488.80" x2="82.97" y2="491.80" stroke="#000" stroke-width="1.3"/><line x1="91.34" y1="281.20" x2="91.34" y2="284.20" stroke="#000" stroke-width="1.3"/><line x1="91.34" y1="488.80" x2="91.34" y2="491.80" stroke="#000" stroke-width="1.3"/><line x1="97.83" y1="281.20" x2="97.83" y2="284.20" stroke="#000" stroke-width="1.3"/><line x1="97.83" y1="488.80" x2="97.83" y2="491.80" stroke="#000" stroke-width="1.3"/><line x1="103.14" y1="281.20" x2="103.14" y2="284.20" stroke="#000" stroke-width="1.3"/><line x1="103.14" y1="488.80" x2="103.14" y2="491.80" stroke="#000" stroke-width="1.3"/><line x1="107.62" y1="281.20" x2="107.62" y2="284.20" stroke="#000" stroke-width="1.3"/><line x1="107.62" y1="488.80" x2="107.62" y2="491.80" stroke="#000" stroke-width="1.3"/><line x1="111.51" y1="281.20" x2="111.51" y2="284.20" stroke="#000" stroke-width="1.3"/><line x1="111.51" y1="488.80" x2="111.51" y2="491.80" stroke="#000" stroke-width="1.3"/><line x1="114.93" y1="281.20" x2="114.93" y2="284.20" stroke="#000" stroke-width="1.3"/><line x1="114.93" y1="488.80" x2="114.93" y2="491.80" stroke="#000" stroke-width="1.3"/><line x1="118.00" y1="281.20" x2="118.00" y2="286.20" stroke="#000" stroke-width="1.3"/><line x1="118.00" y1="486.80" x2="118.00" y2="491.80" stroke="#000" stroke-width="1.3"/><line x1="138.17" y1="281.20" x2="138.17" y2="284.20" stroke="#000" stroke-width="1.3"/><line x1="138.17" y1="488.80" x2="138.17" y2="491.80" stroke="#000" stroke-width="1.3"/><line x1="149.97" y1="281.20" x2="149.97" y2="284.20" stroke="#000" stroke-width="1.3"/><line x1="149.97" y1="488.80" x2="149.97" y2="491.80" stroke="#000" stroke-width="1.3"/><line x1="158.34" y1="281.20" x2="158.34" y2="284.20" stroke="#000" stroke-width="1.3"/><line x1="158.34" y1="488.80" x2="158.34" y2="491.80" stroke="#000" stroke-width="1.3"/><line x1="164.83" y1="281.20" x2="164.83" y2="284.20" stroke="#000" stroke-width="1.3"/><line x1="164.83" y1="488.80" x2="164.83" y2="491.80" stroke="#000" stroke-width="1.3"/><line x1="170.14" y1="281.20" x2="170.14" y2="284.20" stroke="#000" stroke-width="1.3"/><line x1="170.14" y1="488.80" x2="170.14" y2="491.80" stroke="#000" stroke-width="1.3"/><line x1="174.62" y1="281.20" x2="174.62" y2="284.20" stroke="#000" stroke-width="1.3"/><line x1="174.62" y1="488.80" x2="174.62" y2="491.80" stroke="#000" stroke-width="1.3"/><line x1="178.51" y1="281.20" x2="178.51" y2="284.20" stroke="#000" stroke-width="1.3"/><line x1="178.51" y1="488.80" x2="178.51" y2="491.80" stroke="#000" stroke-width="1.3"/><line x1="181.93" y1="281.20" x2="181.93" y2="284.20" stroke="#000" stroke-width="1.3"/><line x1="181.93" y1="488.80" x2="181.93" y2="491.80" stroke="#000" stroke-width="1.3"/><line x1="185.00" y1="281.20" x2="185.00" y2="286.20" stroke="#000" stroke-width="1.3"/><line x1="185.00" y1="486.80" x2="185.00" y2="491.80" stroke="#000" stroke-width="1.3"/><line x1="205.17" y1="281.20" x2="205.17" y2="284.20" stroke="#000" stroke-width="1.3"/><line x1="205.17" y1="488.80" x2="205.17" y2="491.80" stroke="#000" stroke-width="1.3"/><line x1="216.97" y1="281.20" x2="216.97" y2="284.20" stroke="#000" stroke-width="1.3"/><line x1="216.97" y1="488.80" x2="216.97" y2="491.80" stroke="#000" stroke-width="1.3"/><line x1="225.34" y1="281.20" x2="225.34" y2="284.20" stroke="#000" stroke-width="1.3"/><line x1="225.34" y1="488.80" x2="225.34" y2="491.80" stroke="#000" stroke-width="1.3"/><line x1="231.83" y1="281.20" x2="231.83" y2="284.20" stroke="#000" stroke-width="1.3"/><line x1="231.83" y1="488.80" x2="231.83" y2="491.80" stroke="#000" stroke-width="1.3"/><line x1="237.14" y1="281.20" x2="237.14" y2="284.20" stroke="#000" stroke-width="1.3"/><line x1="237.14" y1="488.80" x2="237.14" y2="491.80" stroke="#000" stroke-width="1.3"/><line x1="241.62" y1="281.20" x2="241.62" y2="284.20" stroke="#000" stroke-width="1.3"/><line x1="241.62" y1="488.80" x2="241.62" y2="491.80" stroke="#000" stroke-width="1.3"/><line x1="245.51" y1="281.20" x2="245.51" y2="284.20" stroke="#000" stroke-width="1.3"/><line x1="245.51" y1="488.80" x2="245.51" y2="491.80" stroke="#000" stroke-width="1.3"/><line x1="248.93" y1="281.20" x2="248.93" y2="284.20" stroke="#000" stroke-width="1.3"/><line x1="248.93" y1="488.80" x2="248.93" y2="491.80" stroke="#000" stroke-width="1.3"/><line x1="252.00" y1="281.20" x2="252.00" y2="286.20" stroke="#000" stroke-width="1.3"/><line x1="252.00" y1="486.80" x2="252.00" y2="491.80" stroke="#000" stroke-width="1.3"/><line x1="272.17" y1="281.20" x2="272.17" y2="284.20" stroke="#000" stroke-width="1.3"/><line x1="272.17" y1="488.80" x2="272.17" y2="491.80" stroke="#000" stroke-width="1.3"/><line x1="283.97" y1="281.20" x2="283.97" y2="284.20" stroke="#000" stroke-width="1.3"/><line x1="283.97" y1="488.80" x2="283.97" y2="491.80" stroke="#000" stroke-width="1.3"/><line x1="292.34" y1="281.20" x2="292.34" y2="284.20" stroke="#000" stroke-width="1.3"/><line x1="292.34" y1="488.80" x2="292.34" y2="491.80" stroke="#000" stroke-width="1.3"/><line x1="298.83" y1="281.20" x2="298.83" y2="284.20" stroke="#000" stroke-width="1.3"/><line x1="298.83" y1="488.80" x2="298.83" y2="491.80" stroke="#000" stroke-width="1.3"/><line x1="304.14" y1="281.20" x2="304.14" y2="284.20" stroke="#000" stroke-width="1.3"/><line x1="304.14" y1="488.80" x2="304.14" y2="491.80" stroke="#000" stroke-width="1.3"/><line x1="308.62" y1="281.20" x2="308.62" y2="284.20" stroke="#000" stroke-width="1.3"/><line x1="308.62" y1="488.80" x2="308.62" y2="491.80" stroke="#000" stroke-width="1.3"/><line x1="312.51" y1="281.20" x2="312.51" y2="284.20" stroke="#000" stroke-width="1.3"/><line x1="312.51" y1="488.80" x2="312.51" y2="491.80" stroke="#000" stroke-width="1.3"/><line x1="315.93" y1="281.20" x2="315.93" y2="284.20" stroke="#000" stroke-width="1.3"/><line x1="315.93" y1="488.80" x2="315.93" y2="491.80" stroke="#000" stroke-width="1.3"/><line x1="319.00" y1="281.20" x2="319.00" y2="286.20" stroke="#000" stroke-width="1.3"/><line x1="319.00" y1="486.80" x2="319.00" y2="491.80" stroke="#000" stroke-width="1.3"/><circle cx="683" cy="131" r="5" fill="#000"/><text x="100.3" y="227.8" font-size="14" text-anchor="middle" font-family="Liberation Sans" font-weight="bold">0.5</text><text x="178" y="227.8" font-size="14" text-anchor="middle" font-family="Liberation Sans" font-weight="bold">1</text><text x="255.6" y="227.8" font-size="14" text-anchor="middle" font-family="Liberation Sans" font-weight="bold">2</text><text x="184.4" y="252.6" font-size="13.5" text-anchor="middle" font-family="Liberation Serif" font-weight="bold" letter-spacing="0.8">s (R<tspan font-size="10" dy="3">E</tspan><tspan dy="-3">)</tspan></text><text x="364.5" y="37" font-size="11" text-anchor="middle" font-family="Liberation Sans" font-weight="bold" transform="rotate(-90 364.5 37)">4.95×10<tspan font-size="8" dy="-4">4</tspan></text><text x="364.5" y="100" font-size="11" text-anchor="middle" font-family="Liberation Sans" font-weight="bold" transform="rotate(-90 364.5 100)">4.9×10<tspan font-size="8" dy="-4">4</tspan></text><text x="364.5" y="162.5" font-size="11" text-anchor="middle" font-family="Liberation Sans" font-weight="bold" transform="rotate(-90 364.5 162.5)">4.85×10<tspan font-size="8" dy="-4">4</tspan></text><text x="374" y="16" font-size="11" text-anchor="start" font-family="Liberation Sans" font-weight="bold" transform="rotate(-90 374 16)">x<tspan font-size="8" dy="-5" dx="4">2</tspan></text><text x="478.3" y="227.8" font-size="14" text-anchor="middle" font-family="Liberation Sans" font-weight="bold">0.5</text><text x="556" y="227.8" font-size="14" text-anchor="middle" font-family="Liberation Sans" font-weight="bold">1</text><text x="633.6" y="227.8" font-size="14" text-anchor="middle" font-family="Liberation Sans" font-weight="bold">2</text><text x="562.4" y="252.6" font-size="13.5" text-anchor="middle" font-family="Liberation Serif" font-weight="bold" letter-spacing="0.8">s (R<tspan font-size="10" dy="3">E</tspan><tspan dy="-3">)</tspan></text><text x="742.5" y="37" font-size="11" text-anchor="middle" font-family="Liberation Sans" font-weight="bold" transform="rotate(-90 742.5 37)">4.95×10<tspan font-size="8" dy="-4">4</tspan></text><text x="742.5" y="100" font-size="11" text-anchor="middle" font-family="Liberation Sans" font-weight="bold" transform="rotate(-90 742.5 100)">4.9×10<tspan font-size="8" dy="-4">4</tspan></text><text x="742.5" y="162.5" font-size="11" text-anchor="middle" font-family="Liberation Sans" font-weight="bold" transform="rotate(-90 742.5 162.5)">4.85×10<tspan font-size="8" dy="-4">4</tspan></text><text x="752" y="16" font-size="11" text-anchor="start" font-family="Liberation Sans" font-weight="bold" transform="rotate(-90 752 16)">x<tspan font-size="8" dy="-5" dx="4">2</tspan></text><text x="30.2" y="9.5" font-size="14" text-anchor="middle" font-family="Liberation Sans" font-weight="bold" transform="rotate(-90 30.2 9.5)">1</text><text x="30.2" y="58.8" font-size="14" text-anchor="middle" font-family="Liberation Sans" font-weight="bold" transform="rotate(-90 30.2 58.8)">0.1</text><text x="30.2" y="106.5" font-size="14" text-anchor="middle" font-family="Liberation Sans" font-weight="bold" transform="rotate(-90 30.2 106.5)">0.01</text><text x="28.5" y="153" font-size="14" text-anchor="middle" font-family="Liberation Sans" font-weight="bold" transform="rotate(-90 28.5 153)">10<tspan font-size="9.8" dy="-5">−3</tspan></text><text x="28.5" y="201" font-size="14" text-anchor="middle" font-family="Liberation Sans" font-weight="bold" transform="rotate(-90 28.5 201)">10<tspan font-size="9.8" dy="-5">−4</tspan></text><text x="10" y="106" font-size="15" text-anchor="middle" font-family="Liberation Serif" font-weight="bold" transform="rotate(-90 10 106)">q</text><text x="407.5" y="209.6" font-size="14" text-anchor="middle" font-family="Liberation Sans" font-weight="bold" transform="rotate(-90 407.5 209.6)">0</text><text x="407.5" y="142.24" font-size="14" text-anchor="middle" font-family="Liberation Sans" font-weight="bold" transform="rotate(-90 407.5 142.24)">2</text><text x="407.5" y="74.88" font-size="14" text-anchor="middle" font-family="Liberation Sans" font-weight="bold" transform="rotate(-90 407.5 74.88)">4</text><text x="407.5" y="7.52000000000001" font-size="14" text-anchor="middle" font-family="Liberation Sans" font-weight="bold" transform="rotate(-90 407.5 7.52000000000001)">6</text><text x="388" y="106.5" font-size="14" text-anchor="middle" font-family="Liberation Serif" font-weight="bold" transform="rotate(-90 388 106.5)">θ</text><text x="28.5" y="489.9" font-size="14" text-anchor="middle" font-family="Liberation Sans" font-weight="bold" transform="rotate(-90 28.5 489.9)">0</text><text x="28.5" y="422.54" font-size="14" text-anchor="middle" font-family="Liberation Sans" font-weight="bold" transform="rotate(-90 28.5 422.54)">2</text><text x="28.5" y="355.18" font-size="14" text-anchor="middle" font-family="Liberation Sans" font-weight="bold" transform="rotate(-90 28.5 355.18)">4</text><text x="28.5" y="287.82000000000005" font-size="14" text-anchor="middle" font-family="Liberation Sans" font-weight="bold" transform="rotate(-90 28.5 287.82000000000005)">6</text><text x="9" y="388" font-size="14" text-anchor="middle" font-family="Liberation Serif" font-weight="bold" transform="rotate(-90 9 388)">θ</text><text x="51" y="508.5" font-size="14" text-anchor="middle" font-family="Liberation Sans" font-weight="bold">10<tspan font-size="9.8" dy="-5">−4</tspan></text><text x="118.5" y="508.5" font-size="14" text-anchor="middle" font-family="Liberation Sans" font-weight="bold">10<tspan font-size="9.8" dy="-5">−3</tspan></text><text x="184" y="508.5" font-size="14" text-anchor="middle" font-family="Liberation Sans" font-weight="bold">0.01</text><text x="250.9" y="508.5" font-size="14" text-anchor="middle" font-family="Liberation Sans" font-weight="bold">0.1</text><text x="319" y="508.5" font-size="14" text-anchor="middle" font-family="Liberation Sans" font-weight="bold">1</text><text x="185" y="533" font-size="15" text-anchor="middle" font-family="Liberation Serif" font-weight="bold">q</text><text x="364.5" y="318" font-size="11" text-anchor="middle" font-family="Liberation Sans" font-weight="bold" transform="rotate(-90 364.5 318)">4.95×10<tspan font-size="8" dy="-4">4</tspan></text><text x="364.5" y="381" font-size="11" text-anchor="middle" font-family="Liberation Sans" font-weight="bold" transform="rotate(-90 364.5 381)">4.9×10<tspan font-size="8" dy="-4">4</tspan></text><text x="364.5" y="443.5" font-size="11" text-anchor="middle" font-family="Liberation Sans" font-weight="bold" transform="rotate(-90 364.5 443.5)">4.85×10<tspan font-size="8" dy="-4">4</tspan></text><text x="374" y="297" font-size="11" text-anchor="start" font-family="Liberation Sans" font-weight="bold" transform="rotate(-90 374 297)">x<tspan font-size="8" dy="-5" dx="4">2</tspan></text></svg></body></html>
